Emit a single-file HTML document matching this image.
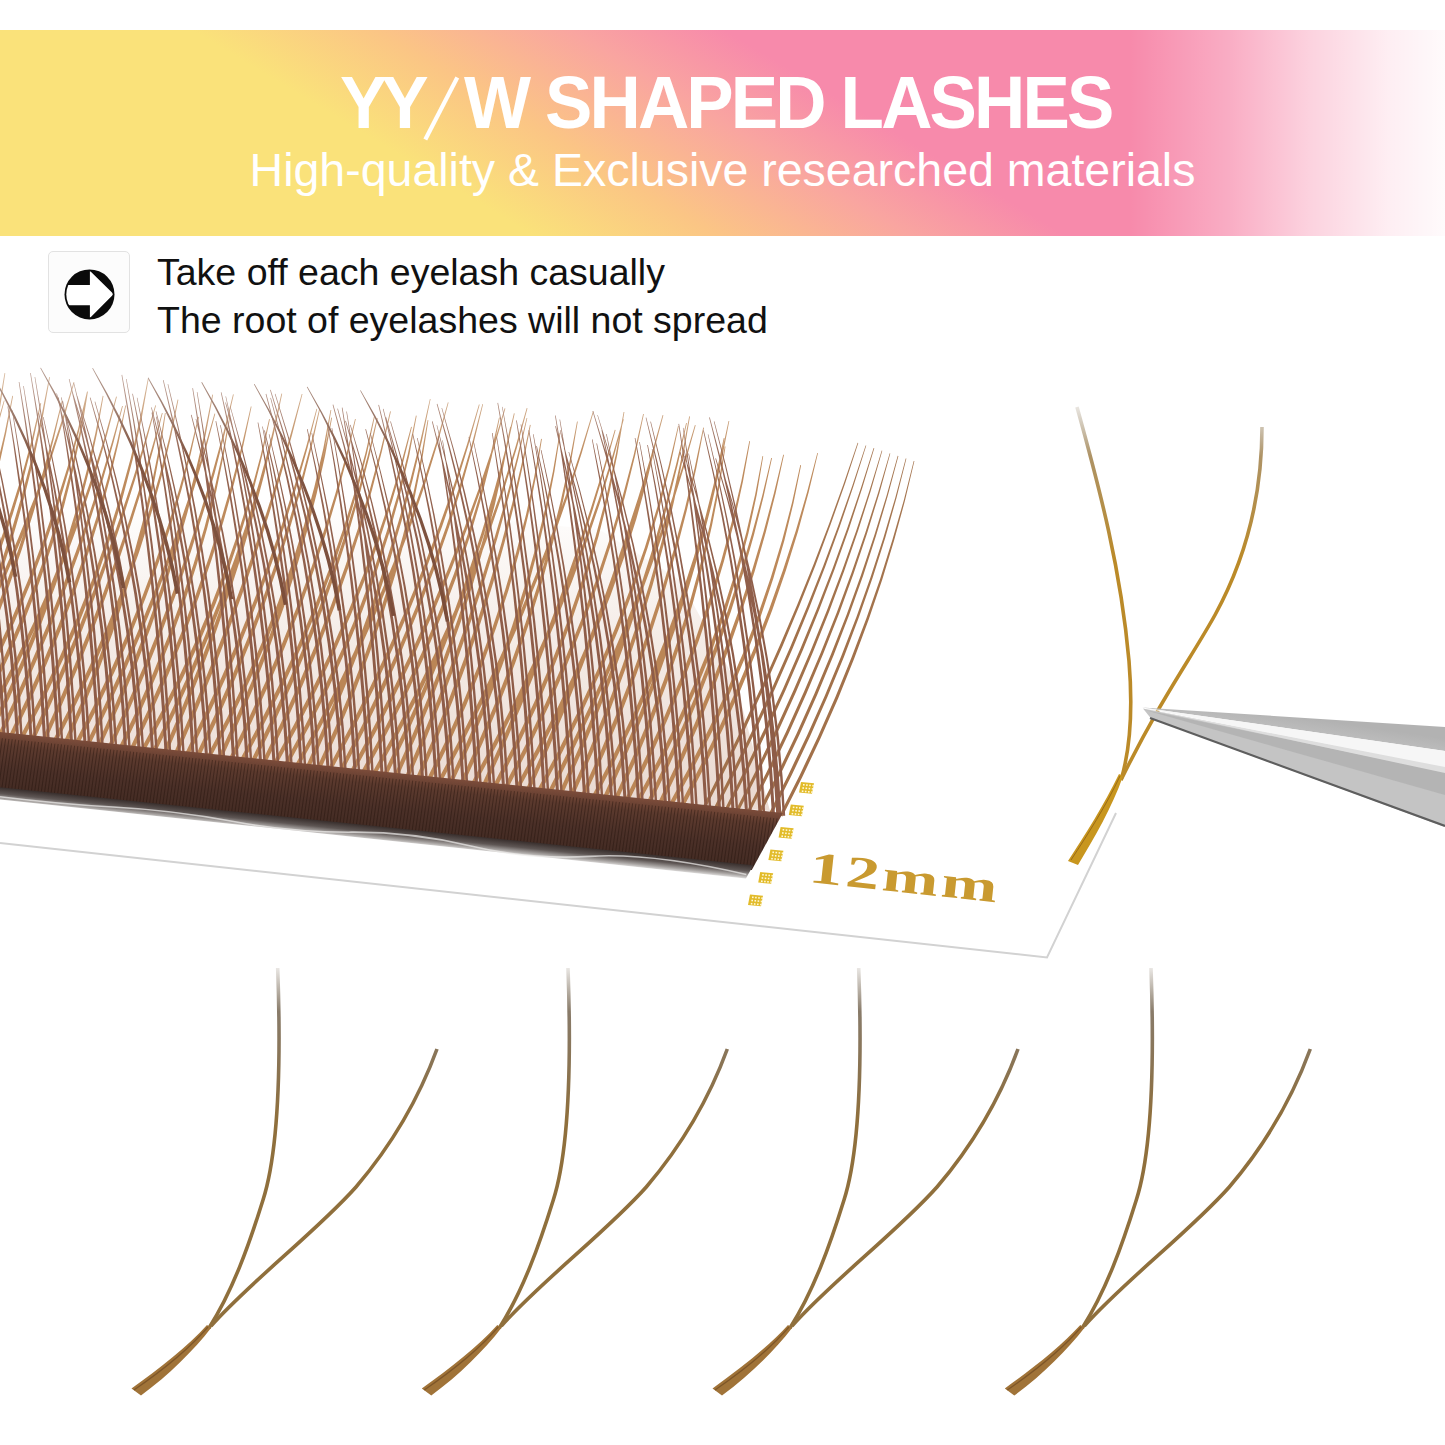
<!DOCTYPE html>
<html><head><meta charset="utf-8">
<style>
html,body{margin:0;padding:0;background:#fff;}
body{width:1445px;height:1445px;position:relative;overflow:hidden;font-family:"Liberation Sans",sans-serif;}
#banner{position:absolute;left:0;top:30px;width:1445px;height:206px;
 background:
  linear-gradient(to right, rgba(255,255,255,0) 0px, rgba(255,255,255,0) 1130px, rgba(255,255,255,0.3) 1230px, rgba(255,255,255,0.62) 1310px, rgba(255,255,255,0.86) 1390px, rgba(255,255,255,0.96) 1445px),
  linear-gradient(31deg, #fae27a 275px, #fbc585 370px, #f9a5a0 470px, #f78aab 550px, #f78aab 921px);}
.t{position:absolute;color:#fff;white-space:nowrap;line-height:1;}
.tb{font-weight:bold;font-size:71px;top:68px;transform:scaleY(1.05);transform-origin:0 60px;}
.t2{left:0;width:1445px;text-align:center;font-size:46.5px;top:147px;}
#box{position:absolute;left:48px;top:251px;width:80px;height:80px;border:1px solid #e2e2e2;border-radius:5px;background:#fcfcfc;}
.l{position:absolute;left:157px;color:#111;font-size:37.5px;white-space:nowrap;}
svg{position:absolute;left:0;top:0;}
.mm{position:absolute;left:808px;top:845px;line-height:1;font-family:"Liberation Serif",serif;font-weight:bold;font-size:45px;color:#c99a30;letter-spacing:2px;transform:rotate(6.2deg) scaleX(1.5);transform-origin:0 37px;white-space:nowrap;}
</style></head><body>
<div id="banner"></div>
<div class="t tb" style="left:340px;letter-spacing:-6px">YY</div>
<svg width="1445" height="200" style="z-index:1"><line x1="425.3" y1="139.5" x2="457.3" y2="77.5" stroke="#fff" stroke-width="4.2"/></svg>
<div class="t tb" style="left:464px;letter-spacing:-2.86px">W SHAPED LASHES</div>
<div class="t t2">High-quality &amp; Exclusive researched materials</div>
<div id="box"></div>
<svg width="1445" height="400" style="z-index:2">
 <defs><clipPath id="icc"><circle cx="89.5" cy="294.4" r="23.2"/></clipPath></defs>
 <circle cx="89.5" cy="294.4" r="25" fill="#0a0a0a"/>
 <path d="M50 285H89.9V270.8L113.6 294.1L89.9 317.9V305.3H50Z" fill="#fff" clip-path="url(#icc)"/>
</svg>
<div class="l" style="top:251px">Take off each eyelash casually</div>
<div class="l" style="top:299px">The root of eyelashes will not spread</div>
<svg width="1445" height="1445" viewBox="0 0 1445 1445" style="z-index:1">
<defs>
 <linearGradient id="bandg" x1="0" y1="0" x2="0" y2="60" gradientUnits="userSpaceOnUse">
  <stop offset="0" stop-color="#7c4c3a"/><stop offset="0.22" stop-color="#5c3a2e"/><stop offset="0.6" stop-color="#4b3028"/><stop offset="1" stop-color="#432b23"/>
 </linearGradient>
 <linearGradient id="tapeg" x1="0" y1="55" x2="0" y2="69" gradientUnits="userSpaceOnUse">
  <stop offset="0" stop-color="#382e2c"/><stop offset="0.45" stop-color="#5e5654"/><stop offset="0.8" stop-color="#aaa6a4"/><stop offset="1" stop-color="#dcdad9"/>
 </linearGradient>
 <linearGradient id="blg" x1="0" y1="965" x2="0" y2="1120" gradientUnits="userSpaceOnUse">
  <stop offset="0" stop-color="#6b5a44" stop-opacity="0.1"/><stop offset="0.3" stop-color="#6b5a44" stop-opacity="0.8"/><stop offset="1" stop-color="#8f6f3c"/>
 </linearGradient>
 <linearGradient id="trg" x1="0" y1="400" x2="0" y2="560" gradientUnits="userSpaceOnUse">
  <stop offset="0" stop-color="#8a7a60" stop-opacity="0.1"/><stop offset="0.35" stop-color="#a0804a" stop-opacity="0.85"/><stop offset="1" stop-color="#bb8a28"/>
 </linearGradient>
 <linearGradient id="tw1" gradientUnits="userSpaceOnUse" x1="1300" y1="717" x2="1296" y2="744">
  <stop offset="0" stop-color="#b2b2b2"/><stop offset="1" stop-color="#c6c6c6"/>
 </linearGradient>
 <linearGradient id="tw2" gradientUnits="userSpaceOnUse" x1="1310" y1="742" x2="1290" y2="770">
  <stop offset="0" stop-color="#d6d6d6"/><stop offset="0.45" stop-color="#b4b4b4"/><stop offset="1" stop-color="#c6c6c6"/>
 </linearGradient>
</defs>
<!-- tray edges -->
<path d="M0 843 L1047 957.5 L1116 813" stroke="#d2d2d2" stroke-width="2" fill="none"/>

<defs>
 <linearGradient id="fade" gradientUnits="userSpaceOnUse" x1="0" y1="360" x2="0" y2="640">
  <stop offset="0" stop-color="#fff" stop-opacity="0.5"/><stop offset="0.35" stop-color="#fff" stop-opacity="0.95"/><stop offset="1" stop-color="#fff" stop-opacity="1"/>
 </linearGradient>
 <mask id="lm" maskUnits="userSpaceOnUse" x="0" y="300" width="1445" height="600"><rect x="0" y="300" width="1445" height="600" fill="url(#fade)"/></mask>
 <linearGradient id="tint" gradientUnits="userSpaceOnUse" x1="0" y1="500" x2="0" y2="790">
  <stop offset="0" stop-color="#d4b09a" stop-opacity="0"/><stop offset="0.5" stop-color="#d4b09a" stop-opacity="0.25"/><stop offset="1" stop-color="#cca490" stop-opacity="0.4"/>
 </linearGradient>
</defs>
<path d="M0 480 L300 500 L600 530 L680 580 L735 680 L770 811 L0 735 Z" fill="url(#tint)"/>
<g mask="url(#lm)">
 <path d="M-328.2 736 -307.6 698.1 -288.3 660.1 -270.3 622.2 -253.7 584.2 -238.4 546.2 -224.4 508.2 -211.8 470.2 -200.4 432.2 -190.5 394.2 -191.2 394 -202 431.8 -213.9 469.5 -227.1 507.3 -241.4 545 -257.1 582.8 -273.9 620.6 -292 658.3 -311.3 696.2 -331.8 734ZM-317.1 735.9 -299.5 699 -283.3 662.1 -268.6 625.1 -255.3 588.2 -243.4 551.2 -233 514.2 -224.1 477.3 -216.6 440.3 -210.5 403.4 -211.3 403.2 -218.1 440 -226.3 476.8 -235.7 513.5 -246.6 550.2 -258.7 587 -272.2 623.7 -287.1 660.5 -303.3 697.3 -320.9 734.1ZM-306.1 735.9 -289.3 697.3 -273.8 658.7 -259.6 620.1 -246.8 581.5 -235.4 542.8 -225.3 504.2 -216.5 465.6 -209.1 426.9 -203 388.3 -203.8 388.2 -210.6 426.7 -218.7 465.1 -228 503.5 -238.5 541.9 -250.3 580.3 -263.3 618.8 -277.6 657.2 -293.1 695.7 -309.9 734.1ZM-295.1 735.9 -277.4 696.6 -261 657.3 -245.8 618 -231.8 578.7 -219.2 539.4 -207.7 500 -197.5 460.7 -188.6 421.4 -181 382 -181.8 381.9 -190.2 421 -199.7 460.1 -210.4 499.3 -222.3 538.4 -235.3 577.5 -249.4 616.6 -264.8 655.8 -281.2 694.9 -298.9 734.1ZM-284.1 735.9 -267.3 696.7 -251.8 657.6 -237.5 618.5 -224.5 579.3 -212.8 540.2 -202.4 501 -193.3 461.9 -185.4 422.7 -178.9 383.6 -179.7 383.5 -187 422.4 -195.5 461.4 -205.1 500.3 -216 539.3 -228 578.2 -241.2 617.2 -255.6 656.2 -271.2 695.2 -287.9 734.1ZM-273.1 735.9 -256 699.7 -240.4 663.5 -226.2 627.3 -213.4 591.1 -202.1 554.9 -192.2 518.6 -183.8 482.4 -176.8 446.2 -171.2 410 -172 409.8 -178.3 445.9 -185.9 481.9 -194.9 517.9 -205.2 553.9 -216.8 589.9 -229.8 625.9 -244.2 662 -259.8 698 -276.9 734.1ZM-262.1 736 -242.6 697.3 -224.7 658.6 -208.4 619.8 -193.7 581.1 -180.6 542.3 -169.1 503.6 -159.2 464.8 -150.9 426.1 -144.3 387.4 -145.1 387.2 -152.5 425.8 -161.4 464.3 -171.8 502.8 -183.7 541.3 -197.1 579.8 -212 618.4 -228.4 656.9 -246.4 695.5 -265.9 734ZM-251.1 735.9 -232.6 696.7 -215.3 657.4 -199.4 618.1 -184.9 578.9 -171.7 539.6 -159.8 500.3 -149.3 461 -140.1 421.7 -132.3 382.4 -133.1 382.2 -141.6 421.3 -151.5 460.4 -162.5 499.5 -174.8 538.6 -188.3 577.6 -203.1 616.7 -219.1 655.8 -236.4 694.9 -254.9 734.1ZM-240.2 736 -219.6 697.9 -200.1 659.8 -181.9 621.7 -164.8 583.6 -149 545.4 -134.3 507.3 -120.8 469.1 -108.5 431 -97.5 392.8 -98.2 392.6 -110 430.5 -122.9 468.4 -136.9 506.3 -152 544.2 -168.2 582.1 -185.4 620.1 -203.8 658 -223.3 696 -243.8 734ZM-229.1 736 -209.9 696.5 -192.3 657.1 -176.3 617.6 -161.8 578.2 -149 538.7 -137.7 499.2 -128.1 459.8 -120.1 420.3 -113.7 380.9 -114.5 380.7 -121.6 420 -130.3 459.3 -140.5 498.5 -152.1 537.7 -165.2 577 -179.9 616.2 -196 655.5 -213.7 694.8 -232.9 734ZM-218.1 735.9 -200.8 699.3 -184.9 662.6 -170.2 625.9 -156.8 589.2 -144.8 552.5 -134 515.8 -124.6 479.1 -116.5 442.5 -109.7 405.8 -110.5 405.6 -118 442.1 -126.8 478.6 -136.7 515.1 -147.9 551.6 -160.3 588 -173.8 624.5 -188.6 661 -204.6 697.5 -221.9 734.1ZM-207.1 735.9 -190.9 699.7 -176 663.5 -162.5 627.3 -150.3 591.1 -139.5 554.8 -130 518.6 -121.8 482.4 -115 446.2 -109.5 410 -110.3 409.9 -116.6 445.9 -124 481.9 -132.7 517.9 -142.6 553.9 -153.8 590 -166.2 626 -179.8 662 -194.7 698.1 -210.9 734.1ZM-196.1 736 -177.4 698.1 -160.3 660.2 -144.6 622.3 -130.5 584.4 -117.9 546.4 -106.8 508.5 -97.3 470.6 -89.3 432.7 -82.8 394.8 -83.6 394.6 -90.8 432.4 -99.4 470.1 -109.5 507.8 -121 545.4 -133.9 583.1 -148.2 620.8 -164 658.6 -181.2 696.3 -199.9 734ZM-185.1 735.9 -169.3 699.6 -154.5 663.4 -140.7 627.2 -127.8 590.9 -116 554.7 -105.1 518.4 -95.2 482.1 -86.3 445.9 -78.3 409.6 -79.1 409.4 -87.8 445.5 -97.4 481.6 -107.8 517.6 -119.1 553.7 -131.3 589.8 -144.3 625.8 -158.3 661.9 -173.2 698 -188.9 734.1ZM-174.2 736 -153 696.9 -133.2 657.7 -114.9 618.5 -98 579.2 -82.5 540 -68.4 500.8 -55.8 461.5 -44.6 422.3 -34.8 383.1 -35.6 382.9 -46.1 421.9 -57.9 460.9 -71.1 499.8 -85.5 538.8 -101.3 577.8 -118.4 616.8 -136.9 655.9 -156.7 694.9 -177.8 734ZM-163.1 735.9 -145.5 698.8 -129.3 661.7 -114.5 624.5 -101.1 587.3 -89.1 550.2 -78.5 513 -69.3 475.8 -61.5 438.6 -55.1 401.5 -55.9 401.3 -63 438.3 -71.5 475.3 -81.2 512.2 -92.2 549.2 -104.6 586.1 -118.2 623.1 -133.1 660.1 -149.3 697.1 -166.9 734.1ZM-152.1 736 -132.7 697 -114.4 658 -97.3 619 -81.3 580 -66.5 540.9 -52.9 501.9 -40.5 462.8 -29.2 423.8 -19.2 384.7 -19.9 384.5 -30.7 423.4 -42.6 462.2 -55.6 501 -69.6 539.8 -84.7 578.6 -100.8 617.4 -118.1 656.3 -136.4 695.2 -155.9 734ZM-141.1 735.9 -124.3 699.5 -108.4 663 -93.4 626.5 -79.3 590 -66.1 553.5 -53.9 517 -42.6 480.5 -32.2 444 -22.7 407.5 -23.5 407.3 -33.7 443.5 -44.7 479.8 -56.6 516.1 -69.2 552.4 -82.7 588.7 -97 625.1 -112.1 661.4 -128.1 697.7 -144.9 734.1ZM-130.2 736 -110.1 698.8 -91.2 661.6 -73.7 624.3 -57.4 587 -42.4 549.7 -28.7 512.4 -16.3 475.2 -5.2 437.9 4.6 400.6 3.9 400.4 -6.7 437.4 -18.4 474.5 -31.4 511.5 -45.5 548.6 -60.7 585.6 -77.2 622.7 -94.9 659.8 -113.8 696.9 -133.8 734ZM-119.2 736 -99.2 697.6 -80.8 659.2 -64 620.8 -48.9 582.4 -35.3 544 -23.4 505.5 -13.1 467.1 -4.4 428.7 2.6 390.2 1.8 390.1 -6 428.3 -15.3 466.5 -26.1 504.7 -38.4 542.9 -52.3 581.1 -67.6 619.3 -84.5 657.5 -102.9 695.8 -122.8 734ZM-108.1 735.9 -89.1 695.7 -71.8 655.4 -56 615.1 -41.7 574.7 -29.1 534.4 -18.1 494.1 -8.7 453.8 -0.9 413.5 5.3 373.2 4.5 373.1 -2.4 413.2 -10.9 453.3 -20.8 493.4 -32.3 533.5 -45.2 573.6 -59.6 613.7 -75.5 653.8 -92.9 693.9 -111.9 734.1ZM-97.1 735.9 -79.6 698.2 -63.4 660.4 -48.5 622.6 -35 584.8 -22.7 547 -11.8 509.2 -2.2 471.4 6.1 433.6 13.1 395.9 12.3 395.7 4.6 433.3 -4.3 470.9 -14.5 508.5 -25.8 546.1 -38.4 583.6 -52.2 621.2 -67.2 658.8 -83.4 696.5 -100.9 734.1ZM-86.2 736 -65.8 699.1 -47 662.1 -29.8 625.2 -14.1 588.2 0.1 551.2 12.7 514.2 23.8 477.2 33.3 440.2 41.2 403.2 40.4 403 31.7 439.8 21.6 476.6 10 513.3 -3 550.1 -17.4 586.8 -33.3 623.6 -50.7 660.4 -69.5 697.1 -89.8 734ZM-75.2 736 -53.2 696.8 -32.6 657.5 -13.3 618.2 4.6 578.9 21.3 539.6 36.6 500.2 50.5 460.9 63.1 421.6 74.4 382.2 73.6 382 61.6 421.1 48.4 460.2 33.9 499.2 18.2 538.3 1.3 577.4 -16.8 616.5 -36.2 655.7 -56.9 694.8 -78.8 734ZM-64.1 735.9 -45.9 696.1 -29.1 656.3 -13.7 616.4 0.4 576.6 13 536.7 24.4 496.8 34.3 457 42.8 417.1 50 377.3 49.2 377.1 41.3 416.8 32.1 456.4 21.6 496.1 9.9 535.7 -3.1 575.4 -17.4 615.1 -32.9 654.7 -49.8 694.4 -67.9 734.1ZM-53.1 735.9 -36.1 698.7 -20.1 661.6 -5.2 624.4 8.7 587.2 21.6 550 33.4 512.8 44.2 475.5 53.9 438.3 62.6 401.1 61.8 400.9 52.4 437.9 42 474.9 30.7 511.9 18.5 548.9 5.3 585.9 -8.8 623 -23.9 660 -39.9 697 -56.9 734.1ZM-42.2 736 -21.7 697.8 -2.7 659.5 14.8 621.3 30.7 583 45.2 544.7 58.1 506.4 69.5 468.1 79.4 429.8 87.8 391.6 87 391.4 77.9 429.5 67.4 467.5 55.4 505.6 42.1 543.6 27.4 581.7 11.2 619.7 -6.4 657.8 -25.4 695.9 -45.8 734ZM-31.2 736 -11 697.8 7.4 659.6 24.1 621.3 39.1 583.1 52.3 544.8 63.9 506.5 73.6 468.3 81.7 430 87.9 391.8 87.1 391.7 80.1 429.7 71.4 467.8 61.2 505.8 49.2 543.8 35.7 581.8 20.5 619.8 3.7 657.9 -14.7 695.9 -34.8 734ZM-20.2 736 0.4 698.4 19.7 660.7 37.6 623 54.2 585.3 69.5 547.6 83.4 509.9 95.9 472.2 107.1 434.5 116.9 396.8 116.1 396.6 105.6 434.1 93.8 471.5 80.7 509 66.4 546.4 50.9 583.9 34.1 621.4 16 658.9 -3.3 696.4 -23.8 734ZM-9.1 735.9 9.3 698.2 26.2 660.4 41.7 622.7 55.7 584.9 68.2 547.1 79.2 509.3 88.8 471.5 96.9 433.7 103.5 396 102.7 395.8 95.3 433.4 86.6 471 76.5 508.5 65.1 546.1 52.2 583.7 38 621.2 22.5 658.8 5.5 696.4 -12.9 734.1ZM1.9 735.9 19.3 699.3 35.6 662.7 51.1 626.1 65.5 589.4 79 552.8 91.4 516.1 102.9 479.4 113.4 442.7 122.9 406.1 122.1 405.9 111.9 442.3 100.8 478.8 88.8 515.2 75.9 551.6 62.1 588.1 47.5 624.6 31.9 661.1 15.5 697.6 -1.9 734.1ZM12.9 737.1 30.5 700.3 46.9 663.5 62 626.7 75.8 589.8 88.4 553 99.8 516.2 109.8 479.3 118.6 442.5 126.1 405.6 125.3 405.5 117.1 442.1 107.6 478.7 97.1 515.4 85.3 552 72.4 588.6 58.4 625.2 43.1 661.9 26.7 698.5 9.1 735.2ZM23.8 738.3 44.5 698.4 63.5 658.5 80.8 618.6 96.4 578.7 110.2 538.7 122.4 498.8 132.8 458.9 141.6 418.9 148.6 379 147.8 378.9 140 418.6 130.7 458.3 119.7 498 107.1 537.7 93 577.4 77.2 617.1 59.8 656.8 40.8 696.5 20.2 736.3ZM34.9 739.3 51.7 702.3 67.7 665.2 82.8 628.2 97.1 591.1 110.6 554 123.2 516.9 135 479.8 145.9 442.7 156 405.6 155.3 405.3 144.4 442.2 132.9 479.1 120.5 516 107.5 552.9 93.7 589.8 79.2 626.7 63.9 663.6 47.9 700.6 31.1 737.5ZM45.9 740.4 62.3 704.1 77.9 667.8 92.6 631.4 106.4 595.1 119.4 558.7 131.5 522.3 142.8 485.9 153.2 449.5 162.7 413.1 161.9 412.9 151.6 449.1 140.6 485.3 128.9 521.4 116.3 557.6 103 593.8 89 630 74.1 666.2 58.5 702.4 42.1 738.7ZM56.9 741.7 76.3 703.7 94.2 665.8 110.7 627.8 125.7 589.8 139.2 551.8 151.2 513.7 161.8 475.7 170.8 437.7 178.4 399.7 177.6 399.6 169.3 437.4 159.6 475.2 148.5 512.9 136.1 550.7 122.3 588.5 107.1 626.3 90.5 664.1 72.5 701.9 53.1 739.7ZM67.9 742.7 84.1 706.1 99 669.5 112.6 632.9 124.8 596.3 135.7 559.6 145.2 523 153.4 486.4 160.3 449.7 165.7 413.1 164.9 413 158.7 449.5 151.2 485.9 142.5 522.3 132.6 558.7 121.4 595.2 108.9 631.6 95.2 668 80.3 704.5 64.1 741ZM78.9 744 97.4 707.7 114.7 671.4 130.7 635 145.3 598.7 158.7 562.4 170.8 526 181.5 489.6 190.9 453.3 199 417 198.2 416.8 189.4 452.9 179.3 489 168.1 525.1 155.6 561.3 142 597.4 127.1 633.5 111 669.7 93.7 705.8 75.1 742ZM89.9 745 107.8 708.3 124.7 671.5 140.7 634.7 155.6 597.9 169.6 561.1 182.5 524.3 194.4 487.5 205.4 450.7 215.3 413.8 214.5 413.6 203.9 450.2 192.3 486.8 179.9 523.4 166.5 560 152.2 596.6 137.1 633.2 121 669.9 104 706.5 86.1 743.2ZM100.9 746.1 118.7 707.1 135.1 668.1 150.2 629.1 164 590 176.5 551 187.6 511.9 197.5 472.9 205.9 433.8 213.1 394.8 212.3 394.6 204.4 433.5 195.3 472.3 184.9 511.2 173.4 550 160.6 588.9 146.6 627.7 131.3 666.6 114.8 705.5 97.1 744.4ZM111.9 747.3 130 708.1 146.9 668.9 162.7 629.7 177.4 590.5 191 551.3 203.4 512.1 214.7 472.9 224.8 433.6 233.8 394.4 233 394.2 223.3 433.3 212.5 472.3 200.7 511.3 187.9 550.3 174 589.3 159.1 628.3 143.2 667.4 126.2 706.4 108.1 745.5ZM122.9 748.5 140.5 711.7 156.7 674.9 171.5 638.1 184.9 601.3 196.8 564.5 207.3 527.7 216.3 490.9 223.9 454.1 230.1 417.3 229.3 417.2 222.4 453.8 214.1 490.4 204.6 527 193.7 563.6 181.4 600.1 167.9 636.7 153 673.3 136.7 710 119.1 746.6ZM133.9 749.6 151.9 711.5 168.8 673.4 184.3 635.3 198.7 597.2 211.8 559.1 223.6 521 234.2 482.9 243.5 444.8 251.6 406.6 250.8 406.5 242 444.4 232 482.3 220.9 520.2 208.7 558.1 195.3 596 180.7 633.9 165 671.8 148.1 709.8 130.1 747.7ZM144.8 750.8 164.8 714 183.3 677.2 200.3 640.4 215.7 603.5 229.6 566.7 242 529.8 252.8 493 262.1 456.1 269.9 419.3 269.1 419.1 260.6 455.7 250.7 492.4 239.3 529 226.5 565.6 212.3 602.2 196.7 638.8 179.6 675.4 161.1 712.1 141.2 748.8ZM155.9 751.9 174.8 713.5 192.5 675 208.9 636.6 224 598.1 237.8 559.6 250.2 521.1 261.4 482.6 271.3 444.1 279.9 405.7 279.1 405.5 269.8 443.8 259.3 482 247.6 520.3 234.7 558.5 220.6 596.8 205.3 635.1 188.8 673.4 171.1 711.7 152.1 750ZM166.9 752.9 184.2 713.1 200.4 673.2 215.5 633.3 229.4 593.3 242.2 553.4 253.9 513.5 264.5 473.5 273.9 433.6 282.2 393.7 281.4 393.5 272.3 433.2 262.3 473 251.2 512.7 239.1 552.4 226 592.2 211.8 631.9 196.6 671.7 180.4 711.4 163.1 751.2ZM177.9 754.1 195.3 714.1 211.8 674.2 227.4 634.2 242.2 594.2 256 554.2 269 514.2 281.1 474.2 292.2 434.2 302.5 394.1 301.7 393.9 290.7 433.7 278.9 473.5 266.3 513.3 252.9 553.1 238.7 593 223.8 632.8 208 672.6 191.4 712.5 174.1 752.4ZM188.9 755.3 207.8 716.9 225.5 678.4 242.1 640 257.5 601.5 271.8 563 284.9 524.5 296.8 486 307.6 447.5 317.2 409 316.5 408.8 306.1 447.1 294.7 485.3 282.2 523.6 268.7 561.9 254.1 600.2 238.5 638.4 221.8 676.8 204 715.1 185.1 753.4ZM199.9 756.4 218.1 717.9 235 679.3 250.8 640.7 265.4 602.1 278.7 563.5 290.9 524.9 301.8 486.3 311.5 447.7 320 409.1 319.2 409 310 447.3 299.6 485.7 288.2 524.1 275.6 562.5 262 600.9 247.2 639.3 231.3 677.7 214.3 716.1 196.1 754.6ZM210.8 757.6 231.1 719.1 249.7 680.5 266.5 641.8 281.6 603.2 295 564.6 306.7 525.9 316.6 487.3 324.8 448.7 331.3 410.1 330.5 410 323.3 448.4 314.4 486.8 304 525.2 291.9 563.6 278.2 601.9 262.9 640.3 246 678.8 227.4 717.2 207.2 755.6ZM221.9 758.7 239.3 720.8 255.4 683 270.3 645.1 283.8 607.2 296.1 569.3 307 531.4 316.7 493.5 325.1 455.6 332.1 417.7 331.3 417.6 323.5 455.3 314.5 493 304.3 530.7 293 568.3 280.4 606 266.6 643.7 251.7 681.4 235.5 719.1 218.1 756.9ZM232.9 759.9 251.6 722 269 684.2 285.2 646.3 300.1 608.5 313.8 570.6 326.2 532.7 337.4 494.8 347.2 456.9 355.8 419.1 355 418.9 345.7 456.5 335.2 494.2 323.5 531.9 310.7 569.5 296.7 607.2 281.6 644.8 265.3 682.5 247.8 720.2 229.1 758ZM243.8 761.1 264.7 722.7 284.1 684.3 301.9 645.8 318 607.4 332.6 569 345.7 530.5 357.1 492 366.9 453.6 375.1 415.2 374.3 415 365.4 453.2 354.9 491.4 343 529.6 329.6 567.8 314.7 606 298.3 644.3 280.4 682.5 261 720.7 240.2 759ZM254.9 762.1 273.7 724 291.3 685.8 307.5 647.6 322.5 609.4 336.1 571.1 348.5 532.9 359.5 494.7 369.3 456.4 377.7 418.2 376.9 418 367.7 456 357.4 494.1 345.8 532.1 333 570.1 319.1 608.1 303.9 646.1 287.5 684.1 269.9 722.2 251.1 760.2ZM265.9 763.3 284.9 724.2 302.6 685.2 319.1 646.1 334.3 607 348.2 567.9 360.8 528.8 372.1 489.6 382.1 450.5 390.9 411.4 390.1 411.3 380.6 450.2 370 489 358.1 527.9 345.1 566.8 330.9 605.7 315.5 644.6 298.9 683.5 281.1 722.4 262.1 761.4ZM276.8 764.5 297.5 727 316.7 689.6 334.5 652.1 351 614.5 366 577 379.6 539.5 391.8 501.9 402.6 464.4 411.9 426.9 411.1 426.7 401 464 389.6 501.3 376.9 538.6 362.9 575.8 347.6 613.1 331 650.4 313 687.7 293.8 725.1 273.2 762.4ZM287.8 765.6 309.1 726.8 328.6 688 346.4 649.1 362.5 610.2 376.8 571.3 389.4 532.4 400.3 493.5 409.4 454.6 416.7 415.8 415.9 415.6 407.8 454.3 398.1 492.9 386.7 531.6 373.7 570.2 359.1 608.9 342.8 647.5 324.9 686.2 305.4 724.9 284.2 763.6ZM298.8 766.8 321.1 726.3 342.1 685.9 361.6 645.4 379.6 604.9 396.3 564.4 411.5 523.9 425.3 483.4 437.7 442.9 448.6 402.4 447.9 402.2 436.2 442.4 423.2 482.7 408.9 522.9 393.3 563.2 376.3 603.5 358 643.8 338.4 684.1 317.5 724.4 295.2 764.7ZM309.9 767.8 328.2 726.8 345.2 685.9 361.1 644.9 375.7 604 389.1 563 401.3 522 412.3 481.1 422.1 440.1 430.6 399.1 429.9 399 420.6 439.7 410.2 480.5 398.6 521.3 386 562 372.3 602.8 357.4 643.6 341.4 684.4 324.3 725.2 306.1 766ZM320.9 768.9 338.6 730.2 354.9 691.5 369.7 652.7 383.1 614 395.1 575.2 405.6 536.5 414.6 497.7 422.3 458.9 428.4 420.2 427.6 420.1 420.7 458.7 412.5 497.2 402.9 535.8 391.9 574.3 379.7 612.8 366.1 651.4 351.1 689.9 334.8 728.5 317.1 767.1ZM331.8 770.2 353.4 729.6 373.7 689 392.7 648.4 410.5 607.8 426.9 567.1 442.1 526.5 455.9 485.9 468.4 445.2 479.7 404.6 478.9 404.4 466.9 444.8 453.8 485.2 439.4 525.5 423.9 565.9 407.1 606.4 389.2 646.8 370.1 687.2 349.7 727.7 328.2 768.1ZM342.8 771.3 364.1 730.6 383.9 689.8 402.3 649.1 419.3 608.3 434.9 567.5 449.1 526.7 461.9 485.9 473.2 445.1 483.1 404.3 482.4 404.1 471.7 444.7 459.7 485.2 446.5 525.8 431.9 566.4 416 606.9 398.8 647.5 380.2 688.1 360.4 728.7 339.2 769.3ZM353.8 772.5 375.9 732.1 396.6 691.7 416 651.2 434.2 610.8 451 570.3 466.6 529.9 480.8 489.4 493.8 448.9 505.4 408.5 504.6 408.3 492.3 448.5 478.7 488.7 464 528.9 448 569.1 430.9 609.3 412.5 649.6 392.9 689.8 372.2 730.1 350.2 770.4ZM364.8 773.6 386.5 734.1 406.6 694.6 425 655 441.7 615.5 456.7 575.9 470 536.3 481.6 496.7 491.6 457.2 499.8 417.6 499 417.5 490 456.8 479.5 496.1 467.3 535.5 453.6 574.8 438.3 614.1 421.4 653.4 402.9 692.8 382.9 732.1 361.2 771.5ZM375.8 774.8 398.5 734.1 419.8 693.4 439.6 652.7 457.9 611.9 474.8 571.2 490.2 530.4 504.1 489.7 516.5 448.9 527.5 408.2 526.7 408 515 448.5 502 489 487.5 529.5 471.7 570 454.6 610.5 436 651 416.1 691.5 394.9 732.1 372.2 772.7ZM386.9 775.8 406.4 735.6 424.5 695.3 441.4 655.1 456.9 614.8 471.1 574.6 484 534.3 495.6 494 505.8 453.7 514.7 413.5 513.9 413.3 504.3 453.4 493.4 493.4 481.3 533.5 468 573.5 453.5 613.6 437.8 653.6 420.8 693.7 402.6 733.8 383.1 773.9ZM397.9 776.9 415.5 738 431.9 699.2 447 660.3 460.9 621.4 473.4 582.5 484.7 543.6 494.8 504.7 503.5 465.8 511 426.9 510.2 426.8 502 465.5 492.6 504.1 482 542.8 470.3 581.5 457.4 620.2 443.4 658.9 428.1 697.6 411.7 736.4 394.1 775.1ZM408.9 778 426.3 738 442.6 698.1 457.9 658.1 472.1 618.1 485.3 578.1 497.4 538.1 508.4 498.1 518.4 458.1 527.3 418.1 526.6 418 516.9 457.8 506.3 497.6 494.7 537.3 482.2 577.1 468.7 616.9 454.2 656.8 438.8 696.6 422.4 736.4 405.1 776.3ZM419.9 779.1 436.9 739.8 452.8 700.5 467.5 661.1 480.9 621.8 493.3 582.4 504.4 543.1 514.4 503.7 523.1 464.3 530.7 425 529.9 424.8 521.6 464 512.2 503.2 501.7 542.3 490.1 581.5 477.5 620.6 463.8 659.8 449 699 433.1 738.2 416.1 777.4ZM430.9 780.4 449.5 742.4 466.5 704.5 482 666.6 495.9 628.6 508.3 590.7 519.1 552.7 528.3 514.8 535.9 476.8 541.9 438.9 541.1 438.8 534.3 476.5 526.1 514.3 516.3 552 505.2 589.7 492.5 627.4 478.4 665.2 462.8 702.9 445.7 740.7 427.1 778.4ZM441.8 781.5 463.7 740.5 484.4 699.4 503.8 658.3 521.9 617.2 538.8 576.1 554.4 535 568.7 493.9 581.8 452.7 593.7 411.6 592.9 411.4 580.3 452.3 566.6 493.2 551.8 534 535.7 574.9 518.6 615.8 500.2 656.7 480.7 697.6 460 738.6 438.2 779.5ZM452.9 782.6 470.8 743.8 487.1 704.9 502.1 666.1 515.5 627.2 527.5 588.4 537.9 549.5 546.9 510.6 554.4 471.8 560.4 432.9 559.6 432.8 552.9 471.5 544.7 510.2 535.2 548.8 524.3 587.4 512.1 626.1 498.4 664.7 483.4 703.4 466.9 742.1 449.1 780.8ZM463.9 783.7 482.4 743.5 499.5 703.3 515.2 663.1 529.3 622.8 542 582.6 553.1 542.3 562.8 502.1 571 461.8 577.8 421.6 577 421.5 569.5 461.5 560.6 501.6 550.4 541.6 538.8 581.6 525.9 621.7 511.5 661.7 495.8 701.8 478.6 741.8 460.1 781.9ZM474.8 785 497.1 744.4 517.9 703.8 537.3 663.2 555.3 622.6 571.8 581.9 586.9 541.3 600.7 500.6 612.9 460 623.8 419.3 623 419.1 611.4 459.5 598.5 499.9 584.3 540.3 568.8 580.7 551.9 621.1 533.7 661.6 514.2 702 493.4 742.5 471.2 782.9ZM485.9 786 503.8 746.5 520.9 706.9 537 667.4 552.3 627.8 566.8 588.3 580.3 548.7 592.9 509.1 604.7 469.5 615.6 429.9 614.8 429.7 603.2 469.1 590.8 508.4 577.6 547.8 563.7 587.2 548.9 626.5 533.4 665.9 517.1 705.3 500 744.8 482.1 784.2ZM496.9 787.2 518.3 745.6 537.9 703.9 555.7 662.2 571.7 620.5 585.9 578.8 598.3 537.1 608.8 495.4 617.5 453.7 624.4 412 623.6 411.9 616 453.4 606.7 494.9 595.6 536.4 582.8 577.8 568.3 619.3 552.1 660.7 534.2 702.2 514.5 743.7 493.1 785.2ZM507.9 788.4 529.3 746.8 549.1 705.2 567.4 663.7 584.1 622.1 599.3 580.4 612.8 538.8 624.8 497.2 635.1 455.6 643.9 414 643.1 413.9 633.6 455.2 622.6 496.6 610.1 538 596.2 579.4 580.8 620.7 563.8 662.1 545.4 703.5 525.5 744.9 504.1 786.4ZM518.8 789.5 540.1 750.9 559.8 712.2 578.1 673.5 594.9 634.8 610.3 596.1 624.1 557.4 636.4 518.7 647.2 479.9 656.5 441.2 655.7 441 645.7 479.5 634.2 518 621.4 556.5 607.2 594.9 591.6 633.4 574.6 671.9 556.2 710.4 536.4 748.9 515.2 787.5ZM529.9 790.5 548.4 748.9 566.1 707.2 582.7 665.5 598.5 623.8 613.4 582.1 627.3 540.4 640.2 498.7 652.3 457 663.4 415.2 662.6 415 650.8 456.5 638.1 498 624.6 539.5 610.3 581 595.1 622.6 579.1 664.1 562.3 705.6 544.6 747.2 526.1 788.8ZM540.8 791.8 562.7 751.2 582.9 710.6 601.5 670 618.5 629.4 633.8 588.7 647.5 548.1 659.6 507.4 670 466.8 678.8 426.1 678 426 668.5 466.4 657.4 506.8 644.9 547.2 630.8 587.6 615.1 628 598 668.4 579.2 708.9 559 749.3 537.2 789.8ZM551.9 792.9 572.4 752.1 591.8 711.3 610 670.4 627.2 629.6 643.1 588.8 658 547.9 671.7 507 684.3 466.1 695.7 425.3 694.9 425.1 682.7 465.7 669.6 506.3 655.3 546.9 640.1 587.6 623.8 628.2 606.5 668.9 588.1 709.6 568.6 750.3 548.1 791ZM562.9 793.9 581.3 752.8 598.6 711.6 614.7 670.4 629.7 629.2 643.5 587.9 656.1 546.7 667.5 505.5 677.8 464.3 686.9 423 686.1 422.9 676.2 463.9 665.3 504.9 653.4 545.9 640.4 586.9 626.3 628 611.1 669 594.8 710 577.5 751.1 559.1 792.2ZM573.9 795.1 592.5 753 609.7 711 625.4 668.9 639.8 626.9 652.7 584.8 664.2 542.7 674.2 500.6 682.8 458.5 690 416.5 689.2 416.3 681.3 458.2 672 500.1 661.5 542 649.6 583.8 636.3 625.7 621.8 667.6 605.9 709.5 588.7 751.4 570.1 793.3ZM584.9 796.2 603.5 755.3 620.8 714.4 636.7 673.4 651.3 632.5 664.5 591.5 676.4 550.5 687 509.6 696.2 468.6 704 427.7 703.2 427.5 694.6 468.3 684.8 509 673.7 549.8 661.4 590.5 647.9 631.3 633.1 672.1 617 712.8 599.7 753.6 581.1 794.4ZM595.8 797.5 616.7 757.6 636 717.7 653.6 677.8 669.5 637.9 683.8 598 696.5 558 707.5 518.1 716.8 478.2 724.5 438.3 723.7 438.1 715.3 477.8 705.3 517.5 693.8 557.2 680.8 596.9 666.2 636.6 650 676.3 632.3 716 613 755.7 592.2 795.5ZM606.9 798.5 625.8 756.6 643.5 714.7 659.7 672.8 674.7 630.8 688.3 588.9 700.6 546.9 711.5 505 721.1 463 729.3 421.1 728.5 420.9 719.5 462.7 709.3 504.4 697.9 546.2 685.2 587.9 671.3 629.6 656.1 671.4 639.7 713.2 622 754.9 603.1 796.7ZM617.9 799.7 635.8 760.5 652.3 721.3 667.3 682 680.8 642.8 692.7 603.6 703.2 564.3 712.1 525.1 719.6 485.9 725.5 446.6 724.7 446.5 718 485.6 710 524.6 700.5 563.6 689.6 602.7 677.3 641.7 663.6 680.7 648.5 719.7 632 758.8 614.1 797.9ZM628.9 800.9 648.7 760.9 666.9 721 683.6 681 698.7 641.1 712.1 601.1 724 561.1 734.3 521.2 743 481.2 750.1 441.2 749.3 441.1 741.4 480.9 732.1 520.6 721.3 560.4 709 600.1 695.3 639.8 680 679.6 663.2 719.4 644.9 759.1 625.1 798.9ZM639.8 802.1 660.7 763.7 679.9 725.3 697.2 686.8 712.7 648.4 726.5 609.9 738.4 571.5 748.5 533.1 756.8 494.6 763.2 456.2 762.5 456.1 755.2 494.3 746.3 532.5 735.7 570.7 723.4 608.9 709.4 647.1 693.6 685.3 676.2 723.5 657 761.7 636.2 800ZM650.9 803.1 669.4 764.8 686.7 726.5 702.7 688.2 717.5 649.9 730.9 611.5 743.1 573.2 754 534.8 763.6 496.5 772 458.1 771.2 458 762.1 496.1 751.8 534.2 740.4 572.3 727.8 610.5 714 648.6 699.1 686.7 683 724.9 665.6 763.1 647.1 801.2ZM661.9 804.2 680.5 765.5 697.8 726.7 713.9 687.9 728.8 649 742.3 610.2 754.6 571.4 765.7 532.5 775.5 493.7 784 454.8 783.2 454.7 773.9 493.3 763.5 531.9 752 570.5 739.2 609.2 725.3 647.8 710.3 686.4 694.1 725 676.7 763.7 658.1 802.4ZM672.8 805.5 693.7 767.7 713 729.9 730.5 692.1 746.5 654.3 760.7 616.5 773.3 578.6 784.3 540.8 793.5 503 801.1 465.2 800.3 465 792 502.6 782.1 540.2 770.7 577.8 757.7 615.4 743.1 653 727 690.5 709.3 728.1 690 765.8 669.2 803.4ZM683.9 806.6 704.2 767.4 723.3 728.1 740.9 688.9 757.2 649.6 772.2 610.3 785.7 571 797.9 531.7 808.6 492.4 818 453.1 817.3 453 807.1 492 795.7 531.1 783 570.1 769.1 609.2 753.9 648.2 737.4 687.3 719.6 726.4 700.5 765.5 680.1 804.6Z" fill="#bb8656"/>
 <path d="M705.4 808.6 726.1 768 745.8 727.4 764.6 686.8 782.5 646.2 799.5 605.6 815.6 565 830.7 524.3 845 483.7 858.3 443 857.6 442.8 843.8 483.3 829.1 523.7 813.6 564.2 797.2 604.7 780 645.1 761.9 685.6 743 726.1 723.2 766.6 702.6 807.1ZM716.4 809.7 737 769.3 756.5 728.9 775.1 688.5 792.8 648 809.4 607.5 825.1 567.1 839.8 526.6 853.5 486.1 866.3 445.6 865.6 445.4 852.3 485.7 838.1 526 823.1 566.3 807.1 606.6 790.2 646.9 772.4 687.2 753.7 727.6 734.1 767.9 713.6 808.3ZM727.4 810.9 747.8 770.6 767.3 730.4 785.6 690.1 803 649.8 819.3 609.5 834.6 569.2 848.9 528.9 862.1 488.5 874.3 448.2 873.6 448 860.9 488.1 847.2 528.3 832.6 568.4 817 608.6 800.4 648.7 782.9 688.9 764.4 729 745 769.2 724.6 809.4ZM738.4 812 758.7 771.9 778 731.8 796.1 691.7 813.2 651.6 829.2 611.4 844.1 571.3 858 531.1 870.7 491 882.3 450.8 881.7 450.6 869.5 490.6 856.3 530.6 842.1 570.5 826.9 610.5 810.7 650.5 793.4 690.5 775.2 730.5 755.9 770.5 735.6 810.5ZM749.4 813.2 769.6 773.2 788.7 733.3 806.6 693.3 823.4 653.3 839.1 613.4 853.6 573.4 867 533.4 879.3 493.4 890.3 453.4 889.7 453.2 878 493 865.3 532.8 851.6 572.6 836.8 612.5 820.9 652.3 803.9 692.1 785.9 732 766.8 771.8 746.6 811.7ZM760.4 814.3 780.5 774.5 799.4 734.7 817.1 694.9 833.7 655.1 849 615.3 863.2 575.5 876.1 535.6 887.8 495.8 898.4 456 897.7 455.8 886.6 495.4 874.4 535.1 861.1 574.8 846.7 614.4 831.1 654.1 814.4 693.7 796.6 733.4 777.7 773.1 757.6 812.8ZM771.4 815.4 791.4 775.8 810.1 736.2 827.6 696.5 843.9 656.9 858.9 617.2 872.7 577.6 885.2 537.9 896.4 498.2 906.4 458.6 905.7 458.4 895.2 497.9 883.5 537.4 870.6 576.9 856.6 616.4 841.3 655.9 824.9 695.4 807.3 734.9 788.5 774.4 768.6 814ZM782.4 816.6 802.3 777.1 820.9 737.6 838.2 698.2 854.1 658.7 868.8 619.2 882.2 579.7 894.2 540.1 905 500.6 914.4 461.1 913.7 461 903.8 500.3 892.5 539.6 880.1 579 866.4 618.3 851.5 657.6 835.4 697 818 736.4 799.4 775.7 779.6 815.1Z" fill="#a2714a"/>
 <path d="M5.5 735.3 3.1 695.5 -0.1 655.7 -4 616 -8.6 576.2 -14 536.4 -20.1 496.6 -26.9 456.9 -34.5 417.2 -42.8 377.4 -43.5 377.6 -35.7 417.4 -28.6 457.2 -22.2 497 -16.4 536.7 -11.3 576.5 -6.8 616.3 -3.1 656 0 695.8 2.5 735.5ZM9.2 735.3 6.8 696 3.7 656.7 -0.1 617.3 -4.7 578 -10 538.7 -16 499.3 -22.7 460 -30.2 420.7 -38.3 381.5 -38.9 381.6 -31.2 420.9 -24.1 460.3 -17.7 499.6 -11.9 538.9 -6.9 578.3 -2.5 617.6 1.3 656.9 4.4 696.2 6.8 735.5ZM19 736.7 16.5 696.5 12.9 656.3 8.3 616.2 2.8 576 -3.7 535.8 -11.2 495.6 -19.7 455.5 -29.1 415.4 -39.6 375.3 -40.3 375.5 -30.3 415.7 -21.3 455.9 -13.3 496.1 -6.1 536.2 0.1 576.4 5.5 616.5 9.9 656.6 13.4 696.8 16 736.9ZM22.7 736.7 20.2 697 16.7 657.3 12.2 617.5 6.7 577.8 0.3 538.1 -7.1 498.4 -15.4 458.7 -24.7 419 -35 379.3 -35.6 379.4 -25.7 419.2 -16.8 459 -8.7 498.7 -1.6 538.4 4.6 578.1 9.9 617.8 14.2 657.5 17.7 697.2 20.3 736.9ZM32.5 738.1 30.2 701 27 663.8 23 626.6 18.2 589.5 12.5 552.3 6 515.2 -1.4 478.1 -9.5 441 -18.5 403.9 -19.2 404.1 -10.7 441.3 -3 478.4 3.9 515.6 10.1 552.7 15.5 589.9 20.1 627 24 664.1 27.1 701.2 29.5 738.3ZM36.2 738.1 33.9 701.4 30.8 664.7 26.8 628 22.1 591.3 16.5 554.6 10.1 517.9 2.9 481.2 -5.1 444.6 -14 407.9 -14.6 408.1 -6.1 444.8 1.5 481.5 8.4 518.2 14.5 554.9 19.9 591.6 24.5 628.3 28.4 664.9 31.4 701.6 33.8 738.3ZM46 739.5 43.9 702.5 41.2 665.4 38 628.4 34.3 591.4 30.1 554.4 25.4 517.3 20.1 480.3 14.4 443.3 8.2 406.3 7.5 406.5 13.2 443.5 18.4 480.6 23.3 517.6 27.7 554.6 31.6 591.7 35.1 628.7 38.2 665.7 40.8 702.7 43 739.7ZM49.7 739.5 47.6 702.9 44.9 666.4 41.8 629.8 38.2 593.2 34 556.6 29.4 520 24.3 483.5 18.7 446.9 12.6 410.4 12 410.5 17.7 447.1 22.9 483.7 27.7 520.2 32.1 556.8 36 593.4 39.5 630 42.5 666.5 45.1 703.1 47.3 739.7ZM59.5 740.9 57.2 701 54.3 661.1 50.9 621.2 47 581.3 42.6 541.4 37.6 501.5 32.1 461.7 26 421.8 19.4 381.9 18.7 382.1 24.8 422 30.4 461.9 35.5 501.8 40.1 541.7 44.3 581.6 48.1 621.5 51.3 661.3 54.1 701.2 56.5 741.1ZM63.2 740.9 60.9 701.5 58.1 662 54.7 622.6 50.9 583.1 46.5 543.7 41.6 504.2 36.2 464.8 30.3 425.4 23.8 386 23.2 386 29.2 425.5 34.8 465 39.9 504.4 44.5 543.9 48.7 583.3 52.4 622.8 55.7 662.2 58.4 701.6 60.8 741.1ZM73 742.3 70.6 701.2 67.6 660.2 64.1 619.1 60 578.1 55.3 537 50 495.9 44.2 454.9 37.8 413.9 30.8 372.9 30.1 373 36.6 414.1 42.5 455.2 47.9 496.2 52.8 537.3 57.3 578.3 61.2 619.4 64.6 660.4 67.5 701.4 70 742.5ZM76.7 742.3 74.3 701.7 71.4 661.1 67.9 620.5 63.8 579.9 59.2 539.2 54.1 498.6 48.3 458 42.1 417.5 35.2 376.9 34.6 377 41 417.6 46.9 458.2 52.4 498.9 57.3 539.5 61.7 580.1 65.6 620.7 69 661.3 71.9 701.9 74.3 742.5ZM86.5 743.7 84.3 707 81.2 670.2 77.4 633.4 72.9 596.7 67.6 559.9 61.6 523.2 54.9 486.5 47.3 449.8 39.1 413.1 38.4 413.3 46.1 450.1 53.2 486.8 59.5 523.6 65.2 560.3 70.2 597 74.6 633.8 78.2 670.5 81.2 707.2 83.5 743.9ZM90.2 743.7 88 707.4 85 671.1 81.3 634.8 76.8 598.5 71.6 562.2 65.7 525.9 59.1 489.6 51.7 453.4 43.6 417.1 43 417.3 50.7 453.6 57.7 489.9 64 526.2 69.7 562.5 74.7 598.8 79 635.1 82.6 671.3 85.5 707.6 87.8 743.9ZM100 745.1 97.7 706.4 94.9 667.7 91.4 629.1 87.4 590.4 82.8 551.7 77.7 513.1 71.9 474.4 65.6 435.8 58.7 397.2 58 397.3 64.4 436 70.2 474.7 75.6 513.4 80.4 552 84.7 590.7 88.5 629.3 91.9 668 94.7 706.6 97 745.3ZM103.7 745.1 101.5 706.9 98.6 668.7 95.2 630.4 91.3 592.2 86.8 554 81.7 515.8 76.1 477.6 69.9 439.4 63.1 401.2 62.5 401.3 68.8 439.5 74.7 477.8 80 516 84.8 554.2 89.1 592.4 92.9 630.7 96.2 668.9 99 707.1 101.3 745.3ZM113.5 746.5 111 707.2 107.6 668 103.2 628.7 97.8 589.4 91.5 550.2 84.3 510.9 76.1 471.7 67 432.5 56.9 393.3 56.3 393.5 65.8 432.8 74.4 472.1 82.2 511.3 89.1 550.6 95.1 589.8 100.3 629 104.6 668.3 108 707.5 110.5 746.7ZM117.2 746.5 114.8 707.7 111.3 668.9 107 630 101.7 591.2 95.5 552.4 88.4 513.6 80.4 474.8 71.4 436.1 61.5 397.3 60.9 397.5 70.4 436.3 79 475.1 86.7 514 93.6 552.8 99.6 591.5 104.7 630.3 108.9 669.1 112.3 707.9 114.8 746.7ZM127 747.9 124.4 706.9 120.9 665.9 116.4 624.8 110.9 583.8 104.5 542.8 97.2 501.8 88.9 460.8 79.7 419.9 69.5 378.9 68.8 379.1 78.5 420.2 87.2 461.2 95.1 502.2 102.1 543.2 108.3 584.2 113.5 625.2 117.9 666.1 121.4 707.1 124 748.1ZM130.7 747.9 128.2 707.3 124.7 666.8 120.2 626.2 114.9 585.6 108.6 545.1 101.3 504.5 93.2 464 84.1 423.5 74.1 382.9 73.5 383.1 83.1 423.7 91.8 464.3 99.6 504.8 106.6 545.4 112.7 585.9 117.9 626.5 122.2 667 125.7 707.5 128.3 748.1ZM140.5 749.3 137.9 709.6 134 669.8 128.9 630.1 122.5 590.4 115 550.7 106.2 511 96.3 471.4 85.1 431.7 72.7 392.1 72 392.3 83.9 432.1 94.6 471.8 104.2 511.5 112.6 551.2 119.9 590.9 126 630.5 131 670.2 134.8 709.8 137.5 749.5ZM144.2 749.3 141.6 710 137.8 670.8 132.7 631.5 126.5 592.2 119.1 553 110.4 513.7 100.6 474.5 89.6 435.3 77.4 396.1 76.8 396.3 88.6 435.6 99.3 474.9 108.8 514.1 117.1 553.4 124.3 592.6 130.4 631.8 135.3 671 139.1 710.2 141.8 749.5ZM154 750.7 151.4 711.4 147.7 672.1 142.9 632.9 137 593.6 129.9 554.4 121.7 515.1 112.4 475.9 102 436.7 90.5 397.5 89.8 397.7 100.8 437 110.8 476.3 119.7 515.6 127.5 554.8 134.3 594 140 633.3 144.7 672.5 148.4 711.7 151 750.9ZM157.7 750.7 155.2 711.9 151.5 673.1 146.7 634.2 140.9 595.4 133.9 556.6 125.9 517.8 116.7 479 106.5 440.3 95.2 401.5 94.6 401.7 105.5 440.5 115.4 479.4 124.2 518.2 132 557 138.7 595.8 144.4 634.6 149.1 673.3 152.7 712.1 155.3 750.8ZM167.5 752.1 165 710.2 161.9 668.2 158.1 626.3 153.7 584.4 148.7 542.4 143 500.5 136.7 458.6 129.8 416.7 122.2 374.8 121.5 375 128.5 416.9 135 458.9 140.9 500.8 146.3 542.7 151.1 584.7 155.3 626.6 158.9 668.5 162 710.4 164.5 752.3ZM171.2 752.1 168.8 710.6 165.7 669.1 162 627.6 157.6 586.2 152.7 544.7 147.1 503.2 140.9 461.8 134.1 420.3 126.6 378.9 126 379 133 420.5 139.5 462 145.4 503.5 150.7 544.9 155.5 586.4 159.6 627.9 163.2 669.3 166.3 710.8 168.8 752.2ZM181 753.5 178.6 713.5 175.4 673.5 171.5 633.5 166.9 593.5 161.6 553.5 155.5 513.5 148.7 473.6 141.2 433.6 132.9 393.7 132.2 393.8 139.9 433.8 147 473.9 153.4 513.9 159.1 553.8 164.2 593.8 168.7 633.8 172.4 673.7 175.5 713.7 178 753.7ZM184.7 753.5 182.3 714 179.2 674.4 175.4 634.8 170.8 595.3 165.5 555.8 159.6 516.2 152.9 476.7 145.5 437.2 137.4 397.7 136.8 397.8 144.5 437.4 151.5 476.9 157.9 516.5 163.6 556 168.6 595.6 173 635.1 176.8 674.6 179.8 714.1 182.3 753.6ZM194.5 754.9 192.3 716.8 189.4 678.8 185.9 640.7 181.8 602.7 177.1 564.6 171.8 526.6 165.9 488.6 159.4 450.5 152.3 412.5 151.6 412.7 158.1 450.8 164.2 488.8 169.7 526.9 174.7 564.9 179.1 603 183 641 186.4 679 189.2 717 191.5 755.1ZM198.2 754.9 196 717.3 193.1 679.7 189.7 642.1 185.7 604.5 181.1 566.9 175.9 529.3 170.1 491.7 163.7 454.1 156.7 416.5 156.1 416.7 162.7 454.3 168.7 491.9 174.2 529.5 179.1 567.1 183.5 604.7 187.4 642.3 190.7 679.9 193.5 717.5 195.8 755ZM208 756.3 205.5 717.5 202.1 678.7 197.7 639.9 192.4 601.1 186.2 562.3 179 523.5 170.9 484.7 161.8 446 151.7 407.3 151.1 407.4 160.6 446.3 169.2 485.1 176.9 523.9 183.8 562.7 189.8 601.4 194.9 640.2 199.1 679 202.5 717.7 205 756.5ZM211.7 756.3 209.3 717.9 205.9 679.6 201.6 641.2 196.4 602.9 190.2 564.5 183.1 526.2 175.1 487.9 166.2 449.6 156.3 411.3 155.7 411.4 165.2 449.8 173.7 488.2 181.4 526.5 188.3 564.9 194.2 603.2 199.3 641.5 203.5 679.8 206.8 718.1 209.3 756.4ZM221.5 757.7 218.9 715.7 215.3 673.7 210.7 631.7 205.2 589.8 198.8 547.8 191.4 505.8 183.1 463.9 173.8 422 163.6 380.1 162.9 380.3 172.6 422.3 181.4 464.3 189.4 506.2 196.4 548.2 202.6 590.1 207.9 632.1 212.3 674 215.8 715.9 218.5 757.9ZM225.2 757.7 222.6 716.2 219.1 674.6 214.6 633.1 209.2 591.6 202.8 550.1 195.6 508.5 187.4 467.1 178.2 425.6 168.2 384.1 167.6 384.2 177.2 425.8 186 467.3 193.9 508.9 200.9 550.4 207 591.9 212.3 633.4 216.6 674.9 220.1 716.4 222.8 757.8ZM235 759.1 232.6 717.8 229.6 676.6 226.1 635.4 222 594.1 217.3 552.9 212.1 511.7 206.3 470.5 199.9 429.3 193 388.1 192.3 388.2 198.7 429.5 204.6 470.7 210 512 214.9 553.2 219.3 594.4 223.2 635.6 226.6 676.8 229.5 718 232 759.2ZM238.7 759.1 236.3 718.3 233.4 677.5 229.9 636.7 225.8 595.9 221.3 555.2 216.1 514.4 210.4 473.6 204.2 432.9 197.4 392.1 196.8 392.2 203.1 433 209 473.8 214.4 514.6 219.3 555.4 223.7 596.2 227.6 636.9 231 677.7 233.9 718.5 236.3 759.2ZM248.5 760.5 246.1 722 242.6 683.6 238.2 645.2 232.8 606.7 226.5 568.3 219.2 529.9 211 491.5 201.8 453.2 191.6 414.8 190.9 415 200.5 453.5 209.3 491.9 217.2 530.3 224.1 568.7 230.2 607.1 235.3 645.5 239.6 683.9 243 722.3 245.5 760.6ZM252.2 760.5 249.8 722.5 246.4 684.5 242.1 646.5 236.8 608.6 230.5 570.6 223.4 532.6 215.2 494.7 206.2 456.7 196.2 418.8 195.6 419 205.2 457 213.9 495 221.7 533 228.6 570.9 234.6 608.9 239.7 646.8 244 684.8 247.3 722.7 249.8 760.6ZM262 761.9 259.7 724 256.7 686.1 253 648.2 248.6 610.3 243.5 572.5 237.7 534.6 231.3 496.7 224.1 458.9 216.2 421.1 215.5 421.2 222.9 459.1 229.6 497 235.7 534.9 241.1 572.8 245.9 610.7 250.1 648.5 253.7 686.4 256.6 724.2 259 762ZM265.7 761.9 263.5 724.5 260.5 687 256.8 649.6 252.5 612.1 247.5 574.7 241.8 537.3 235.5 499.9 228.4 462.5 220.7 425.1 220.1 425.2 227.4 462.7 234.1 500.1 240.1 537.6 245.6 575 250.4 612.4 254.5 649.8 258.1 687.2 261 724.6 263.3 762ZM275.5 763.3 273 722 269.5 680.8 265.2 639.5 260.1 598.3 254.1 557.1 247.3 515.9 239.5 474.7 231 433.5 221.5 392.3 220.8 392.5 229.7 433.7 237.8 475 245.2 516.2 251.7 557.4 257.4 598.7 262.4 639.9 266.5 681.1 269.9 722.3 272.5 763.4ZM279.2 763.3 276.7 722.5 273.3 681.7 269.1 640.9 264 600.1 258.1 559.3 251.4 518.6 243.8 477.8 235.3 437.1 226 396.3 225.5 396.5 234.3 437.3 242.4 478.1 249.7 518.9 256.1 559.6 261.9 600.4 266.8 641.2 270.9 681.9 274.2 722.7 276.8 763.4ZM289 764.7 286.4 724.4 282.7 684.1 277.8 643.8 271.9 603.5 264.9 563.3 256.8 523 247.6 482.8 237.3 442.6 225.9 402.4 225.2 402.6 236.1 442.9 245.9 483.2 254.7 523.5 262.5 563.7 269.2 604 275 644.2 279.7 684.4 283.3 724.6 286 764.8ZM292.7 764.7 290.1 724.9 286.4 685 281.7 645.2 275.8 605.4 268.9 565.5 260.9 525.7 251.9 485.9 241.7 446.2 230.5 406.4 230 406.6 240.7 446.4 250.5 486.3 259.3 526.1 267 565.9 273.7 605.7 279.4 645.5 284 685.3 287.7 725 290.3 764.8ZM302.5 766.1 300.2 727.9 297.3 689.7 293.7 651.5 289.4 613.3 284.5 575.1 278.9 536.9 272.7 498.8 265.9 460.6 258.3 422.5 257.6 422.6 264.6 460.9 271 499.1 276.8 537.3 282.1 575.4 286.7 613.6 290.8 651.8 294.3 689.9 297.2 728.1 299.5 766.2ZM306.2 766.1 304 728.3 301 690.6 297.5 652.8 293.3 615.1 288.5 577.4 283 539.6 276.9 501.9 270.2 464.2 262.8 426.5 262.2 426.6 269.1 464.4 275.5 502.1 281.3 539.9 286.5 577.6 291.1 615.4 295.2 653.1 298.6 690.8 301.5 728.5 303.8 766.2ZM316 767.5 313.7 730 310.5 692.5 306.4 655 301.6 617.5 295.9 580 289.4 542.5 282 505.1 273.8 467.6 264.8 430.2 264.1 430.4 272.6 467.9 280.3 505.4 287.3 542.9 293.5 580.4 298.9 617.8 303.6 655.3 307.5 692.7 310.6 730.2 313 767.6ZM319.7 767.5 317.4 730.4 314.2 693.4 310.3 656.3 305.5 619.3 299.9 582.2 293.5 545.2 286.3 508.2 278.2 471.2 269.4 434.2 268.8 434.3 277.2 471.4 284.9 508.5 291.8 545.5 298 582.6 303.3 619.6 308 656.6 311.8 693.6 314.9 730.6 317.3 767.6ZM329.5 768.9 326.8 727.2 323 685.4 318.2 643.7 312.2 602 305.2 560.4 297.1 518.7 287.9 477 277.6 435.4 266.3 393.8 265.6 394 276.4 435.7 286.2 477.4 295 519.1 302.8 560.8 309.6 602.5 315.3 644.1 320 685.8 323.8 727.4 326.5 769ZM333.2 768.9 330.6 727.6 326.8 686.4 322 645.1 316.1 603.9 309.2 562.6 301.2 521.4 292.2 480.2 282.1 439 270.9 397.8 270.3 398 281.1 439.2 290.8 480.5 299.5 521.7 307.3 563 314 604.2 319.7 645.4 324.4 686.6 328.1 727.8 330.8 769ZM343 770.3 340.2 727.9 336 685.6 330.6 643.3 323.9 601 315.8 558.7 306.5 516.4 295.9 474.2 283.9 431.9 270.7 389.7 270 389.9 282.7 432.3 294.2 474.6 304.4 516.9 313.4 559.2 321.2 601.5 327.7 643.7 333 686 337.1 728.2 340 770.4ZM346.7 770.3 343.9 728.4 339.8 686.5 334.4 644.7 327.8 602.8 319.9 561 310.7 519.1 300.2 477.3 288.4 435.5 275.4 393.8 274.8 393.9 287.4 435.8 298.8 477.7 309 519.5 317.9 561.4 325.7 603.2 332.1 645 337.4 686.8 341.4 728.6 344.3 770.4ZM356.5 771.7 354.2 733.6 351 695.5 347.1 657.4 342.5 619.3 337 581.2 330.8 543.2 323.8 505.1 316.1 467.1 307.6 429.1 306.9 429.2 314.9 467.3 322.1 505.4 328.7 543.5 334.6 581.6 339.8 619.7 344.3 657.7 348 695.7 351.1 733.8 353.5 771.8ZM360.2 771.7 357.9 734 354.8 696.4 351 658.8 346.4 621.1 341 583.5 334.9 545.9 328.1 508.3 320.4 470.7 312.1 433.1 311.5 433.2 319.4 470.9 326.7 508.5 333.2 546.2 339.1 583.8 344.2 621.4 348.7 659 352.4 696.6 355.4 734.2 357.8 771.8ZM370 773.1 367.7 734.2 364.8 695.4 361.3 656.6 357.2 617.8 352.5 579 347.2 540.2 341.3 501.4 334.8 462.6 327.8 423.9 327.1 424 333.6 462.8 339.6 501.7 345.1 540.5 350.1 579.3 354.5 618.1 358.4 656.9 361.8 695.7 364.6 734.4 367 773.2ZM373.7 773.1 371.5 734.7 368.6 696.3 365.1 658 361.1 619.6 356.5 581.2 351.3 542.9 345.5 504.5 339.1 466.2 332.2 427.9 331.6 428 338.1 466.4 344.1 504.8 349.6 543.1 354.5 581.5 358.9 619.8 362.8 658.2 366.2 696.5 369 734.9 371.3 773.2ZM383.5 774.5 381.1 733.7 378.2 692.9 374.7 652.1 370.7 611.3 366.2 570.5 361.1 529.8 355.4 489 349.2 448.3 342.5 407.5 341.8 407.7 348 448.5 353.7 489.3 359 530 363.7 570.8 368 611.6 371.9 652.4 375.2 693.1 378.1 733.9 380.5 774.6ZM387.2 774.5 384.9 734.1 382 693.8 378.6 653.5 374.6 613.1 370.1 572.8 365.1 532.5 359.6 492.2 353.5 451.8 346.9 411.6 346.3 411.6 352.5 452 358.2 492.3 363.4 532.7 368.2 573 372.4 613.3 376.2 653.7 379.6 694 382.4 734.3 384.8 774.6ZM397 775.9 394.3 734.6 390.5 693.3 385.7 652 379.7 610.7 372.6 569.4 364.4 528.1 355.1 486.9 344.8 445.7 333.3 404.5 332.6 404.7 343.5 446 353.5 487.3 362.3 528.6 370.2 569.8 377 611.1 382.8 652.3 387.5 693.6 391.3 734.8 394 776ZM400.7 775.9 398.1 735 394.3 694.2 389.5 653.3 383.6 612.5 376.6 571.7 368.6 530.9 359.4 490.1 349.2 449.3 337.9 408.5 337.3 408.7 348.2 449.5 358.1 490.4 366.9 531.2 374.7 572 381.4 612.8 387.2 653.6 391.9 694.4 395.6 735.2 398.3 776ZM410.5 777.3 407.9 737.6 404.1 697.9 399.2 658.3 393.2 618.6 386 579 377.7 539.4 368.2 499.8 357.6 460.2 345.9 420.7 345.2 420.9 356.4 460.6 366.6 500.2 375.6 539.9 383.6 579.5 390.5 619.1 396.4 658.7 401.1 698.3 404.8 737.8 407.5 777.4ZM414.2 777.3 411.6 738.1 407.9 698.9 403.1 659.7 397.1 620.5 390 581.3 381.9 542.1 372.5 503 362.1 463.8 350.6 424.7 350 424.9 361.1 464.1 371.2 503.3 380.2 542.5 388.1 581.7 395 620.8 400.8 660 405.5 699.1 409.2 738.3 411.8 777.4ZM424 778.6 421.5 739.8 418 700.9 413.5 662 408.1 623.1 401.6 584.3 394.2 545.5 385.8 506.6 376.4 467.8 366 429 365.3 429.2 375.2 468.1 384.1 507 392.1 545.9 399.2 584.7 405.4 623.5 410.7 662.4 415 701.2 418.5 740 421 778.8ZM427.7 778.7 425.3 740.2 421.8 701.8 417.4 663.4 412 625 405.7 586.6 398.3 548.2 390.1 509.8 380.8 471.4 370.6 433 370 433.2 379.8 471.6 388.7 510.1 396.7 548.5 403.7 586.9 409.8 625.3 415.1 663.7 419.4 702.1 422.8 740.4 425.3 778.8ZM437.5 780 434.9 738.3 431.3 696.6 426.7 654.9 421.1 613.2 414.6 571.4 407.2 529.8 398.7 488.1 389.3 446.4 379 404.8 378.3 404.9 388.1 446.7 397 488.4 405.1 530.1 412.2 571.8 418.5 613.5 423.8 655.2 428.3 696.9 431.8 738.5 434.5 780.2ZM441.2 780.1 438.6 738.8 435 697.5 430.5 656.2 425.1 615 418.7 573.7 411.3 532.5 403 491.2 393.7 450 383.5 408.8 382.9 408.9 392.7 450.2 401.6 491.5 409.6 532.8 416.7 574 422.9 615.3 428.2 656.5 432.6 697.7 436.1 739 438.8 780.2ZM451 781.4 448.4 740.9 444.6 700.4 439.6 660 433.5 619.5 426.3 579 418 538.6 408.5 498.1 397.9 457.7 386.2 417.3 385.5 417.5 396.7 458 406.8 498.5 415.9 539 423.9 579.5 430.9 619.9 436.8 660.3 441.6 700.8 445.3 741.2 448 781.6ZM454.7 781.5 452.1 741.4 448.3 701.4 443.5 661.3 437.5 621.3 430.4 581.3 422.2 541.3 412.8 501.3 402.4 461.3 390.8 421.3 390.2 421.5 401.4 461.6 411.5 501.6 420.5 541.6 428.4 581.6 435.3 621.6 441.2 661.6 445.9 701.6 449.6 741.6 452.3 781.6ZM464.5 782.8 462.1 744 458.9 705.2 454.8 666.4 449.9 627.7 444.2 588.9 437.6 550.1 430.3 511.4 422.1 472.6 413.1 433.9 412.4 434.1 420.9 472.9 428.6 511.7 435.5 550.5 441.8 589.3 447.2 628 451.9 666.8 455.9 705.5 459 744.3 461.5 783ZM468.2 782.9 465.8 744.5 462.6 706.2 458.6 667.8 453.8 629.5 448.2 591.1 441.7 552.8 434.5 514.5 426.4 476.2 417.6 437.9 417 438.1 425.4 476.4 433.1 514.8 440 553.1 446.2 591.4 451.6 629.8 456.3 668.1 460.2 706.4 463.4 744.7 465.8 783ZM478 784.2 475.8 745.5 473 706.9 469.6 668.2 465.8 629.5 461.4 590.8 456.4 552.1 451 513.5 445 474.8 438.5 436.2 437.8 436.3 443.8 475 449.3 513.7 454.3 552.4 458.9 591.1 463.1 629.8 466.7 668.4 469.9 707.1 472.7 745.7 475 784.4ZM481.7 784.3 479.5 746 476.7 707.8 473.4 669.5 469.6 631.3 465.3 593.1 460.5 554.8 455.1 516.6 449.2 478.4 442.8 440.2 442.3 440.3 448.2 478.6 453.7 516.8 458.8 555 463.4 593.3 467.5 631.5 471.1 669.7 474.3 708 477 746.2 479.3 784.4ZM491.5 785.6 488.9 745.1 485.3 704.6 480.8 664.1 475.2 623.5 468.7 583 461.1 542.6 452.6 502.1 443.1 461.6 432.6 421.2 431.9 421.4 441.9 461.9 450.9 502.4 459 543 466.2 583.5 472.5 623.9 477.9 664.4 482.3 704.9 485.9 745.3 488.5 785.8ZM495.2 785.6 492.7 745.6 489.1 705.5 484.6 665.4 479.1 625.4 472.7 585.3 465.3 545.3 456.9 505.2 447.5 465.2 437.1 425.2 436.6 425.3 446.5 465.4 455.5 505.5 463.6 545.6 470.7 585.6 477 625.7 482.3 665.7 486.7 705.7 490.2 745.8 492.8 785.8ZM505 787 502.2 744.4 498.2 701.8 493.1 659.2 486.8 616.6 479.2 574 470.6 531.4 460.7 488.9 449.6 446.3 437.4 403.8 436.7 404 448.4 446.7 459 489.3 468.5 531.9 476.8 574.5 484.1 617 490.2 659.6 495.3 702.1 499.2 744.7 502 787.2ZM508.7 787 506 744.9 502 702.7 496.9 660.6 490.7 618.4 483.3 576.3 474.7 534.1 465 492 454.1 449.9 442.1 407.9 441.5 408 453.1 450.2 463.6 492.4 473 534.5 481.3 576.6 488.5 618.8 494.6 660.9 499.6 703 503.5 745.1 506.3 787.2ZM518.5 788.4 516.1 749.3 512.9 710.2 509 671.2 504.3 632.1 498.8 593 492.6 553.9 485.6 514.9 477.8 475.9 469.2 436.8 468.6 437 476.6 476.1 483.9 515.2 490.5 554.3 496.4 593.4 501.6 632.4 506.1 671.5 509.9 710.5 513 749.6 515.5 788.6ZM522.2 788.4 519.9 749.8 516.7 711.2 512.8 672.5 508.2 633.9 502.8 595.3 496.7 556.6 489.8 518 482.1 479.4 473.7 440.8 473.2 441 481.1 479.6 488.4 518.3 495 556.9 500.8 595.5 506 634.2 510.5 672.8 514.3 711.4 517.4 750 519.8 788.6ZM532 789.8 529.7 750.1 526.9 710.5 523.5 670.8 519.7 631.1 515.3 591.5 510.4 551.8 505 512.2 499 472.5 492.6 432.9 491.9 433 497.8 472.7 503.3 512.4 508.3 552.1 512.9 591.7 517 631.4 520.7 671.1 523.9 710.7 526.6 750.3 529 790ZM535.7 789.8 533.4 750.6 530.6 711.4 527.3 672.2 523.5 632.9 519.2 593.7 514.4 554.5 509.1 515.3 503.3 476.1 497 436.9 496.4 437 502.3 476.3 507.7 515.5 512.7 554.7 517.3 593.9 521.4 633.2 525 672.4 528.2 711.6 531 750.8 533.3 790ZM545.5 791.2 543 748 539.7 704.8 535.8 661.7 531.2 618.5 525.9 575.3 520 532.2 513.4 489 506.1 445.9 498.1 402.7 497.4 402.9 504.8 446.1 511.7 489.3 517.9 532.4 523.5 575.6 528.5 618.8 532.9 661.9 536.7 705.1 539.9 748.2 542.5 791.4ZM549.2 791.2 546.7 748.5 543.5 705.8 539.6 663 535.1 620.3 529.9 577.6 524 534.8 517.5 492.1 510.4 449.4 502.5 406.7 502 406.9 509.4 449.6 516.1 492.4 522.3 535.1 527.9 577.8 532.9 620.5 537.3 663.2 541 706 544.2 748.7 546.8 791.4ZM559 792.6 556.6 751.2 553.6 709.8 550 668.5 545.9 627.1 541.2 585.7 536 544.3 530.2 503 523.8 461.6 516.8 420.3 516.1 420.4 522.5 461.8 528.5 503.2 533.9 544.6 538.8 586 543.2 627.3 547.2 668.7 550.6 710.1 553.5 751.4 556 792.8ZM562.7 792.6 560.3 751.7 557.4 710.7 553.9 669.8 549.8 628.9 545.2 587.9 540 547 534.3 506.1 528 465.2 521.2 424.3 520.6 424.4 527 465.4 532.9 506.3 538.3 547.2 543.2 588.2 547.6 629.1 551.5 670 554.9 710.9 557.9 751.9 560.3 792.8ZM572.5 794 570.1 753.6 567.1 713.1 563.5 672.7 559.3 632.2 554.5 591.8 549.1 551.4 543.1 511 536.4 470.5 529.2 430.2 528.5 430.3 535.2 470.8 541.4 511.2 547 551.7 552.1 592.1 556.6 632.5 560.6 672.9 564.1 713.4 567.1 753.8 569.5 794.2ZM576.2 794 573.9 754 570.9 714 567.3 674 563.2 634 558.5 594 553.1 554.1 547.2 514.1 540.7 474.1 533.6 434.2 533 434.3 539.7 474.3 545.8 514.3 551.4 554.3 556.5 594.3 561 634.3 565 674.2 568.5 714.2 571.4 754.2 573.8 794.2ZM586 795.4 583.6 756.6 580.5 717.7 576.5 678.9 571.8 640.1 566.4 601.3 560.2 562.5 553.2 523.7 545.4 484.9 536.9 446.1 536.2 446.3 544.2 485.1 551.5 524 558.1 562.8 564 601.6 569.2 640.4 573.7 679.2 577.5 718 580.6 756.8 583 795.6ZM589.7 795.4 587.4 757 584.2 718.7 580.4 680.3 575.8 641.9 570.4 603.5 564.3 565.2 557.4 526.8 549.8 488.5 541.4 450.1 540.8 450.3 548.8 488.7 556 527.1 562.6 565.4 568.4 603.8 573.6 642.2 578.1 680.5 581.8 718.9 584.9 757.2 587.3 795.6ZM599.5 796.8 597 754.4 593.9 712 590.3 669.6 586 627.3 581.1 584.9 575.6 542.5 569.6 500.1 562.9 457.8 555.7 415.5 555 415.6 561.7 458 567.9 500.4 573.5 542.8 578.7 585.2 583.3 627.5 587.4 669.9 590.9 712.3 594 754.6 596.5 797ZM603.2 796.8 600.8 754.9 597.7 712.9 594.1 671 589.9 629.1 585.1 587.1 579.7 545.2 573.7 503.3 567.2 461.4 560.1 419.5 559.5 419.6 566.2 461.5 572.3 503.5 578 545.4 583.1 587.4 587.7 629.3 591.8 671.2 595.3 713.1 598.3 755 600.8 797ZM613 798.2 610.4 756.8 606.9 715.5 602.4 674.1 597 632.7 590.6 591.4 583.3 550 575.1 508.7 566 467.4 555.9 426.1 555.2 426.3 564.8 467.7 573.4 509.1 581.3 550.4 588.2 591.8 594.3 633.1 599.5 674.4 603.9 715.8 607.3 757.1 610 798.4ZM616.7 798.2 614.2 757.3 610.6 716.4 606.2 675.5 600.9 634.6 594.6 593.6 587.5 552.8 579.4 511.9 570.4 471 560.4 430.1 559.9 430.3 569.4 471.2 578 512.1 585.8 553.1 592.7 594 598.7 634.9 603.9 675.7 608.2 716.6 611.7 757.5 614.3 798.4ZM626.5 799.6 624 760.5 620.3 721.4 615.6 682.3 609.8 643.2 602.9 604.1 594.9 565.1 585.8 526 575.7 487 564.5 448 563.8 448.2 574.5 487.3 584.2 526.4 592.8 565.5 600.5 604.6 607.1 643.6 612.7 682.7 617.3 721.7 620.9 760.7 623.5 799.8ZM630.2 799.6 627.7 761 624.1 722.3 619.4 683.7 613.7 645 606.9 606.4 599 567.8 590.1 529.1 580.2 490.6 569.1 452 568.5 452.1 579.2 490.8 588.8 529.5 597.4 568.1 605 606.7 611.5 645.4 617.1 684 621.7 722.6 625.2 761.2 627.8 799.8ZM640 801 637.6 760.8 634.4 720.6 630.6 680.4 626 640.2 620.7 600 614.8 559.8 608.1 519.6 600.7 479.4 592.5 439.3 591.9 439.4 599.4 479.7 606.4 519.9 612.7 560.1 618.3 600.3 623.3 640.5 627.7 680.7 631.4 720.8 634.5 761 637 801.2ZM643.7 801 641.3 761.3 638.2 721.5 634.4 681.7 629.9 642 624.7 602.2 618.8 562.5 612.3 522.7 605 483 597 443.3 596.4 443.4 604 483.2 610.9 523 617.1 562.7 622.8 602.5 627.7 642.2 632.1 682 635.8 721.7 638.8 761.4 641.3 801.2ZM653.5 802.4 651 761 647.6 719.6 643.5 678.1 638.6 636.7 632.9 595.3 626.4 553.9 619.1 512.6 611.1 471.2 602.2 429.9 601.5 430 609.8 471.4 617.5 512.9 624.3 554.3 630.5 595.7 635.9 637.1 640.7 678.5 644.6 719.8 647.9 761.2 650.5 802.6ZM657.2 802.4 654.7 761.4 651.4 720.5 647.4 679.5 642.5 638.5 636.9 597.6 630.5 556.6 623.4 515.7 615.4 474.8 606.7 433.9 606.1 434 614.4 475 622 516 628.8 556.9 634.9 597.9 640.4 638.8 645 679.8 649 720.7 652.2 761.6 654.8 802.5ZM667 803.8 664.1 760.1 659.8 716.4 654.3 672.7 647.4 629.1 639.2 585.4 629.7 541.7 618.8 498.1 606.6 454.5 593.2 410.9 592.5 411.1 605.4 454.9 617.1 498.5 627.6 542.2 636.8 585.9 644.7 629.5 651.4 673.1 656.9 716.7 661 760.4 664 804ZM670.7 803.8 667.8 760.6 663.6 717.3 658.1 674.1 651.3 630.9 643.2 587.7 633.8 544.5 623.1 501.3 611.1 458.1 597.8 414.9 597.3 415.1 610.2 458.4 621.8 501.6 632.2 544.8 641.3 588 649.2 631.2 655.8 674.4 661.2 717.6 665.4 760.8 668.3 803.9ZM680.5 805.2 678.1 764.4 675 723.5 671.3 682.7 666.9 641.9 661.9 601 656.2 560.2 649.9 519.4 643 478.6 635.4 437.9 634.7 438 641.8 478.9 648.2 519.7 654.1 560.5 659.5 601.4 664.2 642.2 668.4 683 672 723.8 675 764.6 677.5 805.4ZM684.2 805.2 681.8 764.8 678.8 724.4 675.1 684 670.8 643.7 665.9 603.3 660.3 562.9 654.1 522.6 647.3 482.2 639.8 441.9 639.2 442 646.3 482.4 652.7 522.8 658.6 563.2 663.9 603.5 668.6 643.9 672.8 684.3 676.4 724.6 679.3 765 681.8 805.3ZM694 806.6 691.6 766.4 688.5 726.2 684.7 686 680.3 645.8 675.2 605.6 669.4 565.4 662.9 525.3 655.7 485.1 647.9 445 647.2 445.1 654.5 485.4 661.2 525.6 667.3 565.8 672.7 605.9 677.6 646.1 681.9 686.3 685.5 726.4 688.5 766.6 691 806.8ZM697.7 806.6 695.3 766.9 692.3 727.1 688.6 687.4 684.2 647.6 679.1 607.9 673.4 568.1 667.1 528.4 660 488.7 652.3 449 651.8 449.1 659 488.9 665.7 528.6 671.7 568.4 677.2 608.1 682 647.9 686.2 687.6 689.9 727.3 692.9 767 695.3 806.7ZM707.5 808 704.8 764.6 701 721.2 696.2 677.7 690.4 634.3 683.6 590.9 675.8 547.6 667 504.2 657.2 460.8 646.3 417.5 645.7 417.7 656 461.1 665.3 504.5 673.7 548 681.2 591.3 687.8 634.7 693.4 678.1 698 721.4 701.7 764.8 704.5 808.2ZM711.2 808 708.5 765 704.8 722.1 700.1 679.1 694.3 636.2 687.6 593.2 679.9 550.3 671.3 507.3 661.6 464.4 650.9 421.5 650.3 421.7 660.6 464.7 669.9 507.6 678.3 550.6 685.7 593.5 692.2 636.5 697.7 679.4 702.4 722.3 706 765.2 708.8 808.1ZM721 809.4 718.5 766.5 715.5 723.7 711.9 680.8 707.8 637.9 703.1 595.1 697.9 552.2 692.2 509.4 685.9 466.6 679.1 423.8 678.4 423.9 684.7 466.8 690.5 509.6 695.8 552.5 700.7 595.3 705.1 638.2 709 681 712.5 723.9 715.5 766.7 718 809.5ZM724.7 809.4 722.3 767 719.3 724.6 715.7 682.1 711.7 639.7 707.1 597.3 702 554.9 696.3 512.5 690.2 470.1 683.4 427.8 682.9 427.9 689.1 470.3 694.9 512.7 700.3 555.1 705.1 597.5 709.5 639.9 713.4 682.4 716.8 724.7 719.8 767.1 722.3 809.5ZM734.5 810.8 732.1 770.6 728.8 730.4 724.8 690.3 720 650.1 714.4 610 708.1 569.8 701 529.7 693.1 489.6 684.4 449.5 683.7 449.6 691.9 489.8 699.3 530 706 570.2 712 610.3 717.3 650.5 721.9 690.6 725.8 730.7 729 770.8 731.5 810.9ZM738.2 810.8 735.8 771.1 732.6 731.4 728.6 691.6 723.9 651.9 718.4 612.2 712.2 572.5 705.2 532.8 697.4 493.2 688.9 453.5 688.3 453.6 696.4 493.4 703.8 533.1 710.5 572.8 716.5 612.5 721.7 652.2 726.3 691.9 730.2 731.6 733.3 771.3 735.8 810.9ZM748 812.2 745.4 772.1 741.5 732.1 736.3 692 730 652 722.5 612 713.8 572 703.9 532 692.7 492 680.4 452.1 679.7 452.3 691.5 492.4 702.2 532.4 711.7 572.5 720.1 612.5 727.4 652.5 733.5 692.4 738.5 732.4 742.3 772.4 745 812.3ZM751.7 812.2 749.1 772.6 745.2 733 740.2 693.4 734 653.8 726.6 614.3 718 574.7 708.2 535.1 697.2 495.6 685.1 456.1 684.5 456.3 696.2 495.9 706.8 535.5 716.3 575.1 724.6 614.6 731.8 654.2 737.9 693.7 742.8 733.3 746.6 772.8 749.3 812.3ZM761.5 813.6 758.9 771 755.2 728.3 750.7 685.7 745.2 643.1 738.8 600.5 731.4 557.9 723.2 515.4 713.9 472.8 703.8 430.3 703.1 430.5 712.7 473.1 721.5 515.7 729.4 558.3 736.4 600.9 742.5 643.5 747.8 686.1 752.2 728.6 755.8 771.2 758.5 813.7ZM765.2 813.6 762.6 771.4 759 729.3 754.5 687.1 749.1 644.9 742.8 602.8 735.6 560.6 727.4 518.5 718.3 476.4 708.3 434.3 707.8 434.4 717.3 476.6 726 518.8 733.9 561 740.8 603.1 747 645.2 752.2 687.4 756.6 729.5 760.1 771.6 762.8 813.7ZM775 815 772.2 770.8 768.2 726.5 763.2 682.3 757 638.1 749.8 593.9 741.5 549.7 732 505.5 721.5 461.4 709.8 417.3 709.1 417.4 720.2 461.7 730.3 505.9 739.4 550.1 747.4 594.3 754.4 638.5 760.3 682.7 765.2 726.8 769.1 771 772 815.1ZM778.7 815 775.9 771.2 772 727.4 767 683.7 761 639.9 753.8 596.2 745.6 552.4 736.3 508.7 725.9 465 714.4 421.3 713.8 421.4 724.9 465.2 734.9 509 743.9 552.8 751.9 596.5 758.8 640.2 764.7 684 769.6 727.7 773.4 771.4 776.3 815.1ZM781.5 815.6 778.9 775.9 775.1 736.1 770.1 696.4 764 656.7 756.7 616.9 748.3 577.2 738.7 537.5 727.9 497.9 716 458.2 715.3 458.4 726.7 498.2 737 538 746.2 577.7 754.3 617.4 761.3 657.1 767.3 696.8 772.1 736.5 775.8 776.1 778.5 815.8ZM785.2 815.7 782.6 776.4 778.9 737.1 774 697.8 767.9 658.5 760.8 619.2 752.5 579.9 743 540.7 732.4 501.5 720.7 462.2 720.1 462.4 731.4 501.7 741.6 541 750.8 580.3 758.8 619.6 765.8 658.8 771.7 698.1 776.4 737.3 780.1 776.6 782.8 815.8Z" fill="#8e5c48"/>
 <path d="M17.3 576.5 12.7 553.7 7.2 530.9 0.5 508.2 -7.1 485.5 -15.9 462.7 -25.6 440.1 -36.4 417.4 -48.3 394.8 -61.2 372.2 -61.9 372.6 -49.5 395.5 -38.2 418.3 -27.9 441.1 -18.5 463.8 -10.1 486.5 -2.7 509.2 3.8 531.8 9.2 554.5 13.7 577.1ZM71.3 582.1 66.5 558.4 60.7 534.6 53.8 510.9 45.9 487.2 36.8 463.6 26.6 439.9 15.4 416.3 3 392.8 -10.4 369.3 -11.1 369.7 1.8 393.5 13.6 417.2 24.4 440.9 34.1 464.6 42.9 488.3 50.6 511.9 57.4 535.5 63.1 559.1 67.7 582.7ZM125.3 587.7 120.4 563.1 114.4 538.6 107.3 514.1 99 489.7 89.6 465.2 79.1 440.8 67.5 416.4 54.8 392 40.9 367.7 40.2 368.1 53.5 392.7 65.7 417.2 76.9 441.8 87 466.2 96.1 490.7 104.1 515.1 111 539.5 116.9 563.9 121.7 588.3ZM179.3 593.3 174.3 568.1 168.1 543 160.8 517.9 152.4 492.9 142.8 467.8 132 442.8 120.1 417.8 107.1 392.9 92.9 367.9 92.2 368.3 105.8 393.5 118.3 418.7 129.8 443.8 140.1 468.9 149.4 493.9 157.6 518.9 164.7 543.9 170.8 568.9 175.7 593.9ZM233.3 598.9 228.4 574.2 222.3 549.5 215.2 524.9 206.9 500.3 197.4 475.7 186.9 451.1 175.2 426.6 162.4 402.1 148.4 377.6 147.7 378 161.1 402.8 173.4 427.5 184.6 452.1 194.8 476.7 203.9 501.3 212 525.9 218.9 550.4 224.9 575 229.7 599.5ZM287.3 604.4 282.3 579.6 276.3 554.9 269.1 530.1 260.7 505.3 251.2 480.6 240.6 455.9 228.9 431.2 216 406.6 202 382 201.3 382.4 214.7 407.3 227.1 432.1 238.4 456.9 248.6 481.6 257.8 506.4 265.9 531.1 272.9 555.7 278.8 580.4 283.7 605.1ZM341.3 610 336.3 584.8 330.1 559.6 322.8 534.4 314.3 509.3 304.6 484.1 293.9 459 281.9 433.9 268.8 408.9 254.6 383.9 253.9 384.3 267.6 409.6 280.1 434.8 291.6 460 302 485.2 311.3 510.3 319.6 535.4 326.7 560.5 332.8 585.6 337.7 610.7ZM395.3 615.6 390.2 590.1 383.9 564.6 376.5 539.1 367.9 513.6 358.2 488.1 347.3 462.7 335.2 437.3 321.9 412 307.5 386.7 306.8 387.1 320.7 412.6 333.4 438.2 345 463.7 355.6 489.2 365 514.6 373.3 540.1 380.6 565.5 386.7 590.9 391.7 616.2ZM449.3 621.2 444.1 595.5 437.8 569.7 430.4 544 421.7 518.3 411.9 492.6 400.9 466.9 388.7 441.3 375.3 415.7 360.7 390.2 360.1 390.6 374 416.4 386.9 442.2 398.6 467.9 409.2 493.6 418.8 519.3 427.2 545 434.5 570.6 440.7 596.2 445.7 621.8Z" fill="#7a4c38"/>
</g>


<g transform="translate(0,732) rotate(5.9)">
 <clipPath id="bandclip"><polygon points="-10,0 787,0 762,60 -10,60"/></clipPath>
 <polygon points="-10,0 787,0 762,60 -10,60" fill="url(#bandg)"/>
 <path d="M3 6L1 56M6.3 6L4.3 56M9.6 6L7.6 56M12.9 6L10.9 56M16.2 6L14.2 56M19.5 6L17.5 56M22.8 6L20.8 56M26.1 6L24.1 56M29.4 6L27.4 56M32.7 6L30.7 56M36 6L34 56M39.3 6L37.3 56M42.6 6L40.6 56M45.9 6L43.9 56M49.2 6L47.2 56M52.5 6L50.5 56M55.8 6L53.8 56M59.1 6L57.1 56M62.4 6L60.4 56M65.7 6L63.7 56M69 6L67 56M72.3 6L70.3 56M75.6 6L73.6 56M78.9 6L76.9 56M82.2 6L80.2 56M85.5 6L83.5 56M88.8 6L86.8 56M92.1 6L90.1 56M95.4 6L93.4 56M98.7 6L96.7 56M102 6L100 56M105.3 6L103.3 56M108.6 6L106.6 56M111.9 6L109.9 56M115.2 6L113.2 56M118.5 6L116.5 56M121.8 6L119.8 56M125.1 6L123.1 56M128.4 6L126.4 56M131.7 6L129.7 56M135 6L133 56M138.3 6L136.3 56M141.6 6L139.6 56M144.9 6L142.9 56M148.2 6L146.2 56M151.5 6L149.5 56M154.8 6L152.8 56M158.1 6L156.1 56M161.4 6L159.4 56M164.7 6L162.7 56M168 6L166 56M171.3 6L169.3 56M174.6 6L172.6 56M177.9 6L175.9 56M181.2 6L179.2 56M184.5 6L182.5 56M187.8 6L185.8 56M191.1 6L189.1 56M194.4 6L192.4 56M197.7 6L195.7 56M201 6L199 56M204.3 6L202.3 56M207.6 6L205.6 56M210.9 6L208.9 56M214.2 6L212.2 56M217.5 6L215.5 56M220.8 6L218.8 56M224.1 6L222.1 56M227.4 6L225.4 56M230.7 6L228.7 56M234 6L232 56M237.3 6L235.3 56M240.6 6L238.6 56M243.9 6L241.9 56M247.2 6L245.2 56M250.5 6L248.5 56M253.8 6L251.8 56M257.1 6L255.1 56M260.4 6L258.4 56M263.7 6L261.7 56M267 6L265 56M270.3 6L268.3 56M273.6 6L271.6 56M276.9 6L274.9 56M280.2 6L278.2 56M283.5 6L281.5 56M286.8 6L284.8 56M290.1 6L288.1 56M293.4 6L291.4 56M296.7 6L294.7 56M300 6L298 56M303.3 6L301.3 56M306.6 6L304.6 56M309.9 6L307.9 56M313.2 6L311.2 56M316.5 6L314.5 56M319.8 6L317.8 56M323.1 6L321.1 56M326.4 6L324.4 56M329.7 6L327.7 56M333 6L331 56M336.3 6L334.3 56M339.6 6L337.6 56M342.9 6L340.9 56M346.2 6L344.2 56M349.5 6L347.5 56M352.8 6L350.8 56M356.1 6L354.1 56M359.4 6L357.4 56M362.7 6L360.7 56M366 6L364 56M369.3 6L367.3 56M372.6 6L370.6 56M375.9 6L373.9 56M379.2 6L377.2 56M382.5 6L380.5 56M385.8 6L383.8 56M389.1 6L387.1 56M392.4 6L390.4 56M395.7 6L393.7 56M399 6L397 56M402.3 6L400.3 56M405.6 6L403.6 56M408.9 6L406.9 56M412.2 6L410.2 56M415.5 6L413.5 56M418.8 6L416.8 56M422.1 6L420.1 56M425.4 6L423.4 56M428.7 6L426.7 56M432 6L430 56M435.3 6L433.3 56M438.6 6L436.6 56M441.9 6L439.9 56M445.2 6L443.2 56M448.5 6L446.5 56M451.8 6L449.8 56M455.1 6L453.1 56M458.4 6L456.4 56M461.7 6L459.7 56M465 6L463 56M468.3 6L466.3 56M471.6 6L469.6 56M474.9 6L472.9 56M478.2 6L476.2 56M481.5 6L479.5 56M484.8 6L482.8 56M488.1 6L486.1 56M491.4 6L489.4 56M494.7 6L492.7 56M498 6L496 56M501.3 6L499.3 56M504.6 6L502.6 56M507.9 6L505.9 56M511.2 6L509.2 56M514.5 6L512.5 56M517.8 6L515.8 56M521.1 6L519.1 56M524.4 6L522.4 56M527.7 6L525.7 56M531 6L529 56M534.3 6L532.3 56M537.6 6L535.6 56M540.9 6L538.9 56M544.2 6L542.2 56M547.5 6L545.5 56M550.8 6L548.8 56M554.1 6L552.1 56M557.4 6L555.4 56M560.7 6L558.7 56M564 6L562 56M567.3 6L565.3 56M570.6 6L568.6 56M573.9 6L571.9 56M577.2 6L575.2 56M580.5 6L578.5 56M583.8 6L581.8 56M587.1 6L585.1 56M590.4 6L588.4 56M593.7 6L591.7 56M597 6L595 56M600.3 6L598.3 56M603.6 6L601.6 56M606.9 6L604.9 56M610.2 6L608.2 56M613.5 6L611.5 56M616.8 6L614.8 56M620.1 6L618.1 56M623.4 6L621.4 56M626.7 6L624.7 56M630 6L628 56M633.3 6L631.3 56M636.6 6L634.6 56M639.9 6L637.9 56M643.2 6L641.2 56M646.5 6L644.5 56M649.8 6L647.8 56M653.1 6L651.1 56M656.4 6L654.4 56M659.7 6L657.7 56M663 6L661 56M666.3 6L664.3 56M669.6 6L667.6 56M672.9 6L670.9 56M676.2 6L674.2 56M679.5 6L677.5 56M682.8 6L680.8 56M686.1 6L684.1 56M689.4 6L687.4 56M692.7 6L690.7 56M696 6L694 56M699.3 6L697.3 56M702.6 6L700.6 56M705.9 6L703.9 56M709.2 6L707.2 56M712.5 6L710.5 56M715.8 6L713.8 56M719.1 6L717.1 56M722.4 6L720.4 56M725.7 6L723.7 56M729 6L727 56M732.3 6L730.3 56M735.6 6L733.6 56M738.9 6L736.9 56M742.2 6L740.2 56M745.5 6L743.5 56M748.8 6L746.8 56M752.1 6L750.1 56M755.4 6L753.4 56M758.7 6L756.7 56M762 6L760 56M765.3 6L763.3 56M768.6 6L766.6 56M771.9 6L769.9 56M775.2 6L773.2 56M778.5 6L776.5 56M781.8 6L779.8 56M785.1 6L783.1 56" stroke="#24140e" stroke-width="1" opacity="0.45" fill="none" clip-path="url(#bandclip)"/>
 <polygon points="-10,55 763,55 757,69 -10,67" fill="url(#tapeg)"/>
 <path d="M-10 64 Q60 66 120 63 T240 65 T360 63.5 T480 65 T600 63 T757 65" stroke="#f0eeec" stroke-width="1.6" fill="none" opacity="0.7"/>
</g>

<g><path d="M801 782l13 1.3l-2 10.5l-13 -1.3z" fill="#e2bb2a"/><rect x="803" y="784" width="1.6" height="1.6" fill="#fff8d8"/><rect x="806.1" y="784.3" width="1.6" height="1.6" fill="#fff8d8"/><rect x="809.2" y="784.6" width="1.6" height="1.6" fill="#fff8d8"/><rect x="812.3" y="784.9" width="1.6" height="1.6" fill="#fff8d8"/><rect x="802.4" y="787.2" width="1.6" height="1.6" fill="#fff8d8"/><rect x="805.5" y="787.5" width="1.6" height="1.6" fill="#fff8d8"/><rect x="808.6" y="787.8" width="1.6" height="1.6" fill="#fff8d8"/><rect x="811.7" y="788.1" width="1.6" height="1.6" fill="#fff8d8"/><rect x="801.8" y="790.4" width="1.6" height="1.6" fill="#fff8d8"/><rect x="804.9" y="790.7" width="1.6" height="1.6" fill="#fff8d8"/><rect x="808" y="791" width="1.6" height="1.6" fill="#fff8d8"/><rect x="811.1" y="791.3" width="1.6" height="1.6" fill="#fff8d8"/><path d="M790.8 804.5l13 1.3l-2 10.5l-13 -1.3z" fill="#e2bb2a"/><rect x="792.8" y="806.5" width="1.6" height="1.6" fill="#fff8d8"/><rect x="795.9" y="806.8" width="1.6" height="1.6" fill="#fff8d8"/><rect x="799" y="807.1" width="1.6" height="1.6" fill="#fff8d8"/><rect x="802.1" y="807.4" width="1.6" height="1.6" fill="#fff8d8"/><rect x="792.2" y="809.7" width="1.6" height="1.6" fill="#fff8d8"/><rect x="795.3" y="810" width="1.6" height="1.6" fill="#fff8d8"/><rect x="798.4" y="810.3" width="1.6" height="1.6" fill="#fff8d8"/><rect x="801.5" y="810.6" width="1.6" height="1.6" fill="#fff8d8"/><rect x="791.6" y="812.9" width="1.6" height="1.6" fill="#fff8d8"/><rect x="794.7" y="813.2" width="1.6" height="1.6" fill="#fff8d8"/><rect x="797.8" y="813.5" width="1.6" height="1.6" fill="#fff8d8"/><rect x="800.9" y="813.8" width="1.6" height="1.6" fill="#fff8d8"/><path d="M780.6 827l13 1.3l-2 10.5l-13 -1.3z" fill="#e2bb2a"/><rect x="782.6" y="829" width="1.6" height="1.6" fill="#fff8d8"/><rect x="785.7" y="829.3" width="1.6" height="1.6" fill="#fff8d8"/><rect x="788.8" y="829.6" width="1.6" height="1.6" fill="#fff8d8"/><rect x="791.9" y="829.9" width="1.6" height="1.6" fill="#fff8d8"/><rect x="782" y="832.2" width="1.6" height="1.6" fill="#fff8d8"/><rect x="785.1" y="832.5" width="1.6" height="1.6" fill="#fff8d8"/><rect x="788.2" y="832.8" width="1.6" height="1.6" fill="#fff8d8"/><rect x="791.3" y="833.1" width="1.6" height="1.6" fill="#fff8d8"/><rect x="781.4" y="835.4" width="1.6" height="1.6" fill="#fff8d8"/><rect x="784.5" y="835.7" width="1.6" height="1.6" fill="#fff8d8"/><rect x="787.6" y="836" width="1.6" height="1.6" fill="#fff8d8"/><rect x="790.7" y="836.3" width="1.6" height="1.6" fill="#fff8d8"/><path d="M770.4 849.5l13 1.3l-2 10.5l-13 -1.3z" fill="#e2bb2a"/><rect x="772.4" y="851.5" width="1.6" height="1.6" fill="#fff8d8"/><rect x="775.5" y="851.8" width="1.6" height="1.6" fill="#fff8d8"/><rect x="778.6" y="852.1" width="1.6" height="1.6" fill="#fff8d8"/><rect x="781.7" y="852.4" width="1.6" height="1.6" fill="#fff8d8"/><rect x="771.8" y="854.7" width="1.6" height="1.6" fill="#fff8d8"/><rect x="774.9" y="855" width="1.6" height="1.6" fill="#fff8d8"/><rect x="778" y="855.3" width="1.6" height="1.6" fill="#fff8d8"/><rect x="781.1" y="855.6" width="1.6" height="1.6" fill="#fff8d8"/><rect x="771.2" y="857.9" width="1.6" height="1.6" fill="#fff8d8"/><rect x="774.3" y="858.2" width="1.6" height="1.6" fill="#fff8d8"/><rect x="777.4" y="858.5" width="1.6" height="1.6" fill="#fff8d8"/><rect x="780.5" y="858.8" width="1.6" height="1.6" fill="#fff8d8"/><path d="M760.2 872l13 1.3l-2 10.5l-13 -1.3z" fill="#e2bb2a"/><rect x="762.2" y="874" width="1.6" height="1.6" fill="#fff8d8"/><rect x="765.3" y="874.3" width="1.6" height="1.6" fill="#fff8d8"/><rect x="768.4" y="874.6" width="1.6" height="1.6" fill="#fff8d8"/><rect x="771.5" y="874.9" width="1.6" height="1.6" fill="#fff8d8"/><rect x="761.6" y="877.2" width="1.6" height="1.6" fill="#fff8d8"/><rect x="764.7" y="877.5" width="1.6" height="1.6" fill="#fff8d8"/><rect x="767.8" y="877.8" width="1.6" height="1.6" fill="#fff8d8"/><rect x="770.9" y="878.1" width="1.6" height="1.6" fill="#fff8d8"/><rect x="761" y="880.4" width="1.6" height="1.6" fill="#fff8d8"/><rect x="764.1" y="880.7" width="1.6" height="1.6" fill="#fff8d8"/><rect x="767.2" y="881" width="1.6" height="1.6" fill="#fff8d8"/><rect x="770.3" y="881.3" width="1.6" height="1.6" fill="#fff8d8"/><path d="M750 894.5l13 1.3l-2 10.5l-13 -1.3z" fill="#e2bb2a"/><rect x="752" y="896.5" width="1.6" height="1.6" fill="#fff8d8"/><rect x="755.1" y="896.8" width="1.6" height="1.6" fill="#fff8d8"/><rect x="758.2" y="897.1" width="1.6" height="1.6" fill="#fff8d8"/><rect x="761.3" y="897.4" width="1.6" height="1.6" fill="#fff8d8"/><rect x="751.4" y="899.7" width="1.6" height="1.6" fill="#fff8d8"/><rect x="754.5" y="900" width="1.6" height="1.6" fill="#fff8d8"/><rect x="757.6" y="900.3" width="1.6" height="1.6" fill="#fff8d8"/><rect x="760.7" y="900.6" width="1.6" height="1.6" fill="#fff8d8"/><rect x="750.8" y="902.9" width="1.6" height="1.6" fill="#fff8d8"/><rect x="753.9" y="903.2" width="1.6" height="1.6" fill="#fff8d8"/><rect x="757" y="903.5" width="1.6" height="1.6" fill="#fff8d8"/><rect x="760.1" y="903.8" width="1.6" height="1.6" fill="#fff8d8"/></g>
<!-- top-right lash -->
<path d="M1077 407 C1100 490 1121 570 1129 661 C1133 710 1130 750 1121 780" stroke="url(#trg)" stroke-width="3.6" fill="none"/>
<path d="M1262 427 C1262 500 1245 560 1215 615 C1190 660 1160 700 1121 780" stroke="url(#trg)" stroke-width="3.6" fill="none"/>
<path d="M1068 861 C1085 835 1104 805 1119 774 L1123 776 C1112 808 1094 838 1078 865 Z" fill="#c8961e"/>
<path d="M1071 860 C1088 834 1106 806 1120 776" stroke="#9a6a16" stroke-width="1" fill="none"/>
<!-- tweezers -->
<path d="M1142 707.4 L1445 727 L1445 751 Z" fill="url(#tw1)"/>
<path d="M1142 707.4 L1445 751 L1445 769 Z" fill="#f6f6f6"/>
<path d="M1143 708.5 L1445 768 L1445 827 L1151 718.5 Z" fill="#c4c4c4"/>
<path d="M1145 710 L1445 772 L1445 795 Z" fill="#b0b0b0" opacity="0.8"/>
<path d="M1143 708.5 L1445 767 L1445 773 Z" fill="#dedede"/>
<path d="M1150 718 L1445 826" stroke="#5e5e5e" stroke-width="2.2"/>

<g id="bl">
 <path d="M277.7 968 C281 1060 279 1150 263 1200 C249 1245 233 1290 209 1328" stroke="url(#blg)" stroke-width="3.6" fill="none"/>
 <path d="M437 1049 C422 1090 396 1140 356 1187 C316 1232 252 1280 211 1326" stroke="url(#blg)" stroke-width="3.6" fill="none"/>
 <path d="M131.5 1388.5 C160 1368 188 1346 207 1325 L211 1328 C194 1350 169 1375 141 1395.5 Z" fill="#a07338"/>
 <path d="M134 1390 C163 1370 190 1348 208 1327" stroke="#7e5628" stroke-width="1.2" fill="none"/>
</g>

<use href="#bl" x="290.3"/>
<use href="#bl" x="581"/>
<use href="#bl" x="873.3"/>
</svg>
<div class="mm">12mm</div>
</body></html>
